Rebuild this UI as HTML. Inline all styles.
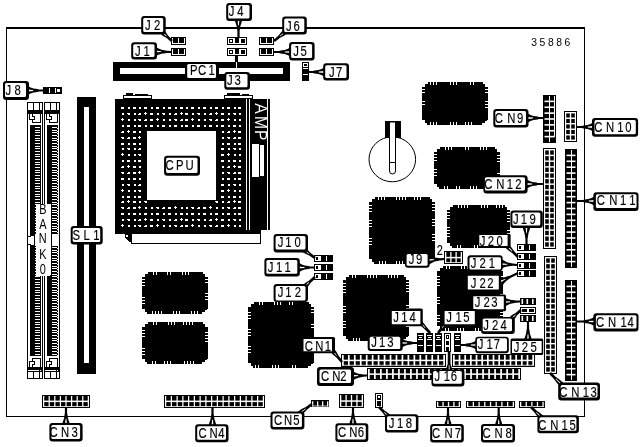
<!DOCTYPE html>
<html lang="en">
<head>
<meta charset="utf-8">
<title>35886 board layout</title>
<style>
html,body{margin:0;padding:0;background:#fff;}
body{width:643px;height:447px;overflow:hidden;}
svg{display:block;font-family:"Liberation Sans",sans-serif;}
svg .g{shape-rendering:crispEdges;}
svg .a{shape-rendering:geometricPrecision;}
svg{will-change:transform;filter:grayscale(1);}
</style>
</head>
<body>
<svg width="643" height="447" viewBox="0 0 643 447">
<rect width="643" height="447" fill="#fff"/>
<g class="g">
<rect x="6" y="27" width="579" height="2" fill="#000"/>
<rect x="6" y="27" width="1" height="390" fill="#000"/>
<rect x="584" y="27" width="1" height="390" fill="#000"/>
<rect x="6" y="416" width="579" height="1" fill="#000"/>
<rect x="113" y="62" width="177" height="19" fill="#000"/>
<rect x="120" y="68" width="163" height="6" fill="#fff"/>
<rect x="77" y="97" width="19" height="277" fill="#000"/>
<rect x="84" y="107" width="5" height="256" fill="#fff"/>
<rect x="27" y="102" width="16" height="277" fill="#000"/>
<rect x="28" y="103" width="14" height="275" fill="#fff"/>
<rect x="33" y="102" width="1" height="8" fill="#000"/>
<rect x="39" y="102" width="1" height="8" fill="#000"/>
<rect x="27" y="110" width="16" height="4" fill="#000"/>
<rect x="33" y="371" width="1" height="8" fill="#000"/>
<rect x="39" y="371" width="1" height="8" fill="#000"/>
<rect x="27" y="371" width="16" height="1" fill="#000"/>
<rect x="27" y="367" width="16" height="3" fill="#000"/>
<rect x="39" y="369" width="1" height="3" fill="#000"/>
<rect x="41" y="369" width="2" height="3" fill="#000"/>
<rect x="29" y="114" width="1" height="6" fill="#000"/>
<rect x="29" y="119" width="6" height="1" fill="#000"/>
<rect x="34" y="116" width="1" height="4" fill="#000"/>
<rect x="32" y="116" width="3" height="1" fill="#000"/>
<rect x="32" y="114" width="1" height="3" fill="#000"/>
<rect x="40" y="114" width="1" height="9" fill="#000"/>
<rect x="32" y="122" width="9" height="1" fill="#000"/>
<rect x="32" y="120" width="1" height="3" fill="#000"/>
<rect x="29" y="361" width="1" height="6" fill="#000"/>
<rect x="29" y="361" width="6" height="1" fill="#000"/>
<rect x="34" y="361" width="1" height="4" fill="#000"/>
<rect x="32" y="364" width="3" height="1" fill="#000"/>
<rect x="32" y="364" width="1" height="3" fill="#000"/>
<rect x="40" y="358" width="1" height="9" fill="#000"/>
<rect x="32" y="358" width="9" height="1" fill="#000"/>
<rect x="32" y="358" width="1" height="3" fill="#000"/>
<rect x="30" y="125" width="11" height="231" fill="#000"/>
<rect x="35" y="127" width="5" height="1" fill="#fff"/>
<rect x="35" y="129.667" width="5" height="1" fill="#fff"/>
<rect x="35" y="132.333" width="5" height="1" fill="#fff"/>
<rect x="35" y="135" width="5" height="1" fill="#fff"/>
<rect x="35" y="137.667" width="5" height="1" fill="#fff"/>
<rect x="35" y="140.333" width="5" height="1" fill="#fff"/>
<rect x="35" y="143" width="5" height="1" fill="#fff"/>
<rect x="35" y="145.667" width="5" height="1" fill="#fff"/>
<rect x="35" y="148.333" width="5" height="1" fill="#fff"/>
<rect x="35" y="151" width="5" height="1" fill="#fff"/>
<rect x="35" y="153.667" width="5" height="1" fill="#fff"/>
<rect x="35" y="156.333" width="5" height="1" fill="#fff"/>
<rect x="35" y="159" width="5" height="1" fill="#fff"/>
<rect x="35" y="161.667" width="5" height="1" fill="#fff"/>
<rect x="35" y="164.333" width="5" height="1" fill="#fff"/>
<rect x="35" y="167" width="5" height="1" fill="#fff"/>
<rect x="35" y="169.667" width="5" height="1" fill="#fff"/>
<rect x="35" y="172.333" width="5" height="1" fill="#fff"/>
<rect x="35" y="175" width="5" height="1" fill="#fff"/>
<rect x="35" y="177.667" width="5" height="1" fill="#fff"/>
<rect x="35" y="180.333" width="5" height="1" fill="#fff"/>
<rect x="35" y="183" width="5" height="1" fill="#fff"/>
<rect x="35" y="185.667" width="5" height="1" fill="#fff"/>
<rect x="35" y="188.333" width="5" height="1" fill="#fff"/>
<rect x="35" y="191" width="5" height="1" fill="#fff"/>
<rect x="35" y="193.667" width="5" height="1" fill="#fff"/>
<rect x="35" y="196.333" width="5" height="1" fill="#fff"/>
<rect x="35" y="199" width="5" height="1" fill="#fff"/>
<rect x="35" y="201.667" width="5" height="1" fill="#fff"/>
<rect x="35" y="204.333" width="5" height="1" fill="#fff"/>
<rect x="35" y="207" width="5" height="1" fill="#fff"/>
<rect x="35" y="209.667" width="5" height="1" fill="#fff"/>
<rect x="35" y="212.333" width="5" height="1" fill="#fff"/>
<rect x="35" y="215" width="5" height="1" fill="#fff"/>
<rect x="35" y="217.667" width="5" height="1" fill="#fff"/>
<rect x="35" y="220.333" width="5" height="1" fill="#fff"/>
<rect x="35" y="223" width="5" height="1" fill="#fff"/>
<rect x="35" y="225.667" width="5" height="1" fill="#fff"/>
<rect x="35" y="228.333" width="5" height="1" fill="#fff"/>
<rect x="35" y="231" width="5" height="1" fill="#fff"/>
<rect x="35" y="233.667" width="5" height="1" fill="#fff"/>
<rect x="35" y="236.333" width="5" height="1" fill="#fff"/>
<rect x="35" y="239" width="5" height="1" fill="#fff"/>
<rect x="35" y="241.667" width="5" height="1" fill="#fff"/>
<rect x="35" y="244.333" width="5" height="1" fill="#fff"/>
<rect x="35" y="247" width="5" height="1" fill="#fff"/>
<rect x="35" y="249.667" width="5" height="1" fill="#fff"/>
<rect x="35" y="252.333" width="5" height="1" fill="#fff"/>
<rect x="35" y="255" width="5" height="1" fill="#fff"/>
<rect x="35" y="257.667" width="5" height="1" fill="#fff"/>
<rect x="35" y="260.333" width="5" height="1" fill="#fff"/>
<rect x="35" y="263" width="5" height="1" fill="#fff"/>
<rect x="35" y="265.667" width="5" height="1" fill="#fff"/>
<rect x="35" y="268.333" width="5" height="1" fill="#fff"/>
<rect x="35" y="271" width="5" height="1" fill="#fff"/>
<rect x="35" y="273.667" width="5" height="1" fill="#fff"/>
<rect x="35" y="276.333" width="5" height="1" fill="#fff"/>
<rect x="35" y="279" width="5" height="1" fill="#fff"/>
<rect x="35" y="281.667" width="5" height="1" fill="#fff"/>
<rect x="35" y="284.333" width="5" height="1" fill="#fff"/>
<rect x="35" y="287" width="5" height="1" fill="#fff"/>
<rect x="35" y="289.667" width="5" height="1" fill="#fff"/>
<rect x="35" y="292.333" width="5" height="1" fill="#fff"/>
<rect x="35" y="295" width="5" height="1" fill="#fff"/>
<rect x="35" y="297.667" width="5" height="1" fill="#fff"/>
<rect x="35" y="300.333" width="5" height="1" fill="#fff"/>
<rect x="35" y="303" width="5" height="1" fill="#fff"/>
<rect x="35" y="305.667" width="5" height="1" fill="#fff"/>
<rect x="35" y="308.333" width="5" height="1" fill="#fff"/>
<rect x="35" y="311" width="5" height="1" fill="#fff"/>
<rect x="35" y="313.667" width="5" height="1" fill="#fff"/>
<rect x="35" y="316.333" width="5" height="1" fill="#fff"/>
<rect x="35" y="319" width="5" height="1" fill="#fff"/>
<rect x="35" y="321.667" width="5" height="1" fill="#fff"/>
<rect x="35" y="324.333" width="5" height="1" fill="#fff"/>
<rect x="35" y="327" width="5" height="1" fill="#fff"/>
<rect x="35" y="329.667" width="5" height="1" fill="#fff"/>
<rect x="35" y="332.333" width="5" height="1" fill="#fff"/>
<rect x="35" y="335" width="5" height="1" fill="#fff"/>
<rect x="35" y="337.667" width="5" height="1" fill="#fff"/>
<rect x="35" y="340.333" width="5" height="1" fill="#fff"/>
<rect x="35" y="343" width="5" height="1" fill="#fff"/>
<rect x="35" y="345.667" width="5" height="1" fill="#fff"/>
<rect x="35" y="348.333" width="5" height="1" fill="#fff"/>
<rect x="35" y="351" width="5" height="1" fill="#fff"/>
<rect x="35" y="353.667" width="5" height="1" fill="#fff"/>
<rect x="28" y="236" width="6" height="9" fill="#fff"/>
<rect x="28" y="236" width="3" height="1" fill="#000"/>
<rect x="28" y="244" width="3" height="1" fill="#000"/>
<rect x="35" y="234" width="7" height="12" fill="#fff"/>
<rect x="35" y="246" width="6" height="1" fill="#000"/>
<rect x="44" y="102" width="16" height="277" fill="#000"/>
<rect x="45" y="103" width="14" height="275" fill="#fff"/>
<rect x="50" y="102" width="1" height="8" fill="#000"/>
<rect x="56" y="102" width="1" height="8" fill="#000"/>
<rect x="44" y="110" width="16" height="4" fill="#000"/>
<rect x="50" y="371" width="1" height="8" fill="#000"/>
<rect x="56" y="371" width="1" height="8" fill="#000"/>
<rect x="44" y="371" width="16" height="1" fill="#000"/>
<rect x="44" y="367" width="16" height="3" fill="#000"/>
<rect x="56" y="369" width="1" height="3" fill="#000"/>
<rect x="58" y="369" width="2" height="3" fill="#000"/>
<rect x="46" y="114" width="1" height="6" fill="#000"/>
<rect x="46" y="119" width="6" height="1" fill="#000"/>
<rect x="51" y="116" width="1" height="4" fill="#000"/>
<rect x="49" y="116" width="3" height="1" fill="#000"/>
<rect x="49" y="114" width="1" height="3" fill="#000"/>
<rect x="57" y="114" width="1" height="9" fill="#000"/>
<rect x="49" y="122" width="9" height="1" fill="#000"/>
<rect x="49" y="120" width="1" height="3" fill="#000"/>
<rect x="46" y="361" width="1" height="6" fill="#000"/>
<rect x="46" y="361" width="6" height="1" fill="#000"/>
<rect x="51" y="361" width="1" height="4" fill="#000"/>
<rect x="49" y="364" width="3" height="1" fill="#000"/>
<rect x="49" y="364" width="1" height="3" fill="#000"/>
<rect x="57" y="358" width="1" height="9" fill="#000"/>
<rect x="49" y="358" width="9" height="1" fill="#000"/>
<rect x="49" y="358" width="1" height="3" fill="#000"/>
<rect x="47" y="125" width="11" height="231" fill="#000"/>
<rect x="52" y="127" width="5" height="1" fill="#fff"/>
<rect x="57" y="128" width="1" height="1" fill="#fff"/>
<rect x="52" y="129.667" width="5" height="1" fill="#fff"/>
<rect x="57" y="130.667" width="1" height="1" fill="#fff"/>
<rect x="52" y="132.333" width="5" height="1" fill="#fff"/>
<rect x="57" y="133.333" width="1" height="1" fill="#fff"/>
<rect x="52" y="135" width="5" height="1" fill="#fff"/>
<rect x="57" y="136" width="1" height="1" fill="#fff"/>
<rect x="52" y="137.667" width="5" height="1" fill="#fff"/>
<rect x="57" y="138.667" width="1" height="1" fill="#fff"/>
<rect x="52" y="140.333" width="5" height="1" fill="#fff"/>
<rect x="57" y="141.333" width="1" height="1" fill="#fff"/>
<rect x="52" y="143" width="5" height="1" fill="#fff"/>
<rect x="57" y="144" width="1" height="1" fill="#fff"/>
<rect x="52" y="145.667" width="5" height="1" fill="#fff"/>
<rect x="57" y="146.667" width="1" height="1" fill="#fff"/>
<rect x="52" y="148.333" width="5" height="1" fill="#fff"/>
<rect x="57" y="149.333" width="1" height="1" fill="#fff"/>
<rect x="52" y="151" width="5" height="1" fill="#fff"/>
<rect x="57" y="152" width="1" height="1" fill="#fff"/>
<rect x="52" y="153.667" width="5" height="1" fill="#fff"/>
<rect x="57" y="154.667" width="1" height="1" fill="#fff"/>
<rect x="52" y="156.333" width="5" height="1" fill="#fff"/>
<rect x="57" y="157.333" width="1" height="1" fill="#fff"/>
<rect x="52" y="159" width="5" height="1" fill="#fff"/>
<rect x="57" y="160" width="1" height="1" fill="#fff"/>
<rect x="52" y="161.667" width="5" height="1" fill="#fff"/>
<rect x="57" y="162.667" width="1" height="1" fill="#fff"/>
<rect x="52" y="164.333" width="5" height="1" fill="#fff"/>
<rect x="57" y="165.333" width="1" height="1" fill="#fff"/>
<rect x="52" y="167" width="5" height="1" fill="#fff"/>
<rect x="57" y="168" width="1" height="1" fill="#fff"/>
<rect x="52" y="169.667" width="5" height="1" fill="#fff"/>
<rect x="57" y="170.667" width="1" height="1" fill="#fff"/>
<rect x="52" y="172.333" width="5" height="1" fill="#fff"/>
<rect x="57" y="173.333" width="1" height="1" fill="#fff"/>
<rect x="52" y="175" width="5" height="1" fill="#fff"/>
<rect x="57" y="176" width="1" height="1" fill="#fff"/>
<rect x="52" y="177.667" width="5" height="1" fill="#fff"/>
<rect x="57" y="178.667" width="1" height="1" fill="#fff"/>
<rect x="52" y="180.333" width="5" height="1" fill="#fff"/>
<rect x="57" y="181.333" width="1" height="1" fill="#fff"/>
<rect x="52" y="183" width="5" height="1" fill="#fff"/>
<rect x="57" y="184" width="1" height="1" fill="#fff"/>
<rect x="52" y="185.667" width="5" height="1" fill="#fff"/>
<rect x="57" y="186.667" width="1" height="1" fill="#fff"/>
<rect x="52" y="188.333" width="5" height="1" fill="#fff"/>
<rect x="57" y="189.333" width="1" height="1" fill="#fff"/>
<rect x="52" y="191" width="5" height="1" fill="#fff"/>
<rect x="57" y="192" width="1" height="1" fill="#fff"/>
<rect x="52" y="193.667" width="5" height="1" fill="#fff"/>
<rect x="57" y="194.667" width="1" height="1" fill="#fff"/>
<rect x="52" y="196.333" width="5" height="1" fill="#fff"/>
<rect x="57" y="197.333" width="1" height="1" fill="#fff"/>
<rect x="52" y="199" width="5" height="1" fill="#fff"/>
<rect x="57" y="200" width="1" height="1" fill="#fff"/>
<rect x="52" y="201.667" width="5" height="1" fill="#fff"/>
<rect x="57" y="202.667" width="1" height="1" fill="#fff"/>
<rect x="52" y="204.333" width="5" height="1" fill="#fff"/>
<rect x="57" y="205.333" width="1" height="1" fill="#fff"/>
<rect x="52" y="207" width="5" height="1" fill="#fff"/>
<rect x="57" y="208" width="1" height="1" fill="#fff"/>
<rect x="52" y="209.667" width="5" height="1" fill="#fff"/>
<rect x="57" y="210.667" width="1" height="1" fill="#fff"/>
<rect x="52" y="212.333" width="5" height="1" fill="#fff"/>
<rect x="57" y="213.333" width="1" height="1" fill="#fff"/>
<rect x="52" y="215" width="5" height="1" fill="#fff"/>
<rect x="57" y="216" width="1" height="1" fill="#fff"/>
<rect x="52" y="217.667" width="5" height="1" fill="#fff"/>
<rect x="57" y="218.667" width="1" height="1" fill="#fff"/>
<rect x="52" y="220.333" width="5" height="1" fill="#fff"/>
<rect x="57" y="221.333" width="1" height="1" fill="#fff"/>
<rect x="52" y="223" width="5" height="1" fill="#fff"/>
<rect x="57" y="224" width="1" height="1" fill="#fff"/>
<rect x="52" y="225.667" width="5" height="1" fill="#fff"/>
<rect x="57" y="226.667" width="1" height="1" fill="#fff"/>
<rect x="52" y="228.333" width="5" height="1" fill="#fff"/>
<rect x="57" y="229.333" width="1" height="1" fill="#fff"/>
<rect x="52" y="231" width="5" height="1" fill="#fff"/>
<rect x="57" y="232" width="1" height="1" fill="#fff"/>
<rect x="52" y="233.667" width="5" height="1" fill="#fff"/>
<rect x="57" y="234.667" width="1" height="1" fill="#fff"/>
<rect x="52" y="236.333" width="5" height="1" fill="#fff"/>
<rect x="57" y="237.333" width="1" height="1" fill="#fff"/>
<rect x="52" y="239" width="5" height="1" fill="#fff"/>
<rect x="57" y="240" width="1" height="1" fill="#fff"/>
<rect x="52" y="241.667" width="5" height="1" fill="#fff"/>
<rect x="57" y="242.667" width="1" height="1" fill="#fff"/>
<rect x="52" y="244.333" width="5" height="1" fill="#fff"/>
<rect x="57" y="245.333" width="1" height="1" fill="#fff"/>
<rect x="52" y="247" width="5" height="1" fill="#fff"/>
<rect x="57" y="248" width="1" height="1" fill="#fff"/>
<rect x="52" y="249.667" width="5" height="1" fill="#fff"/>
<rect x="57" y="250.667" width="1" height="1" fill="#fff"/>
<rect x="52" y="252.333" width="5" height="1" fill="#fff"/>
<rect x="57" y="253.333" width="1" height="1" fill="#fff"/>
<rect x="52" y="255" width="5" height="1" fill="#fff"/>
<rect x="57" y="256" width="1" height="1" fill="#fff"/>
<rect x="52" y="257.667" width="5" height="1" fill="#fff"/>
<rect x="57" y="258.667" width="1" height="1" fill="#fff"/>
<rect x="52" y="260.333" width="5" height="1" fill="#fff"/>
<rect x="57" y="261.333" width="1" height="1" fill="#fff"/>
<rect x="52" y="263" width="5" height="1" fill="#fff"/>
<rect x="57" y="264" width="1" height="1" fill="#fff"/>
<rect x="52" y="265.667" width="5" height="1" fill="#fff"/>
<rect x="57" y="266.667" width="1" height="1" fill="#fff"/>
<rect x="52" y="268.333" width="5" height="1" fill="#fff"/>
<rect x="57" y="269.333" width="1" height="1" fill="#fff"/>
<rect x="52" y="271" width="5" height="1" fill="#fff"/>
<rect x="57" y="272" width="1" height="1" fill="#fff"/>
<rect x="52" y="273.667" width="5" height="1" fill="#fff"/>
<rect x="57" y="274.667" width="1" height="1" fill="#fff"/>
<rect x="52" y="276.333" width="5" height="1" fill="#fff"/>
<rect x="57" y="277.333" width="1" height="1" fill="#fff"/>
<rect x="52" y="279" width="5" height="1" fill="#fff"/>
<rect x="57" y="280" width="1" height="1" fill="#fff"/>
<rect x="52" y="281.667" width="5" height="1" fill="#fff"/>
<rect x="57" y="282.667" width="1" height="1" fill="#fff"/>
<rect x="52" y="284.333" width="5" height="1" fill="#fff"/>
<rect x="57" y="285.333" width="1" height="1" fill="#fff"/>
<rect x="52" y="287" width="5" height="1" fill="#fff"/>
<rect x="57" y="288" width="1" height="1" fill="#fff"/>
<rect x="52" y="289.667" width="5" height="1" fill="#fff"/>
<rect x="57" y="290.667" width="1" height="1" fill="#fff"/>
<rect x="52" y="292.333" width="5" height="1" fill="#fff"/>
<rect x="57" y="293.333" width="1" height="1" fill="#fff"/>
<rect x="52" y="295" width="5" height="1" fill="#fff"/>
<rect x="57" y="296" width="1" height="1" fill="#fff"/>
<rect x="52" y="297.667" width="5" height="1" fill="#fff"/>
<rect x="57" y="298.667" width="1" height="1" fill="#fff"/>
<rect x="52" y="300.333" width="5" height="1" fill="#fff"/>
<rect x="57" y="301.333" width="1" height="1" fill="#fff"/>
<rect x="52" y="303" width="5" height="1" fill="#fff"/>
<rect x="57" y="304" width="1" height="1" fill="#fff"/>
<rect x="52" y="305.667" width="5" height="1" fill="#fff"/>
<rect x="57" y="306.667" width="1" height="1" fill="#fff"/>
<rect x="52" y="308.333" width="5" height="1" fill="#fff"/>
<rect x="57" y="309.333" width="1" height="1" fill="#fff"/>
<rect x="52" y="311" width="5" height="1" fill="#fff"/>
<rect x="57" y="312" width="1" height="1" fill="#fff"/>
<rect x="52" y="313.667" width="5" height="1" fill="#fff"/>
<rect x="57" y="314.667" width="1" height="1" fill="#fff"/>
<rect x="52" y="316.333" width="5" height="1" fill="#fff"/>
<rect x="57" y="317.333" width="1" height="1" fill="#fff"/>
<rect x="52" y="319" width="5" height="1" fill="#fff"/>
<rect x="57" y="320" width="1" height="1" fill="#fff"/>
<rect x="52" y="321.667" width="5" height="1" fill="#fff"/>
<rect x="57" y="322.667" width="1" height="1" fill="#fff"/>
<rect x="52" y="324.333" width="5" height="1" fill="#fff"/>
<rect x="57" y="325.333" width="1" height="1" fill="#fff"/>
<rect x="52" y="327" width="5" height="1" fill="#fff"/>
<rect x="57" y="328" width="1" height="1" fill="#fff"/>
<rect x="52" y="329.667" width="5" height="1" fill="#fff"/>
<rect x="57" y="330.667" width="1" height="1" fill="#fff"/>
<rect x="52" y="332.333" width="5" height="1" fill="#fff"/>
<rect x="57" y="333.333" width="1" height="1" fill="#fff"/>
<rect x="52" y="335" width="5" height="1" fill="#fff"/>
<rect x="57" y="336" width="1" height="1" fill="#fff"/>
<rect x="52" y="337.667" width="5" height="1" fill="#fff"/>
<rect x="57" y="338.667" width="1" height="1" fill="#fff"/>
<rect x="52" y="340.333" width="5" height="1" fill="#fff"/>
<rect x="57" y="341.333" width="1" height="1" fill="#fff"/>
<rect x="52" y="343" width="5" height="1" fill="#fff"/>
<rect x="57" y="344" width="1" height="1" fill="#fff"/>
<rect x="52" y="345.667" width="5" height="1" fill="#fff"/>
<rect x="57" y="346.667" width="1" height="1" fill="#fff"/>
<rect x="52" y="348.333" width="5" height="1" fill="#fff"/>
<rect x="57" y="349.333" width="1" height="1" fill="#fff"/>
<rect x="52" y="351" width="5" height="1" fill="#fff"/>
<rect x="57" y="352" width="1" height="1" fill="#fff"/>
<rect x="52" y="353.667" width="5" height="1" fill="#fff"/>
<rect x="57" y="354.667" width="1" height="1" fill="#fff"/>
<rect x="45" y="236" width="6" height="9" fill="#fff"/>
<rect x="45" y="236" width="3" height="1" fill="#000"/>
<rect x="45" y="244" width="3" height="1" fill="#000"/>
<rect x="52" y="234" width="7" height="12" fill="#fff"/>
<rect x="52" y="246" width="6" height="1" fill="#000"/>
<rect x="36" y="203.5" width="15" height="72.5" rx="2" ry="2" fill="#fff"/>
<text transform="scale(0.78,1)" text-anchor="middle" font-size="14" x="54.9 54.9 54.9 54.9 54.9" y="213.8 228.8 243.2 258.8 273.8">BANK0</text>
<rect x="123" y="95" width="29" height="4" fill="#000"/>
<rect x="124" y="96" width="27" height="2" fill="#fff"/>
<rect x="126" y="93" width="7" height="2" fill="#000"/>
<rect x="135" y="94" width="13" height="1" fill="#000"/>
<rect x="224" y="95" width="29" height="4" fill="#000"/>
<rect x="225" y="96" width="27" height="2" fill="#fff"/>
<rect x="227" y="93" width="13" height="2" fill="#000"/>
<rect x="242" y="94" width="7" height="1" fill="#000"/>
<rect x="115" y="99" width="146" height="135" fill="#000"/>
<rect x="261" y="99" width="9" height="131" fill="#fff"/>
<rect x="246" y="99" width="24" height="131" fill="#000"/>
<rect x="246" y="99" width="1" height="131" fill="#fff"/>
<rect x="249" y="99" width="1" height="131" fill="#fff"/>
<rect x="267" y="99" width="1" height="131" fill="#fff"/>
<rect x="252" y="144" width="7" height="33" fill="#fff"/>
<rect x="260" y="145" width="4" height="31" fill="#fff"/>
<text transform="translate(255,103.3) rotate(90) scale(0.95,1)" font-size="16.5" fill="#fff" x="0 13.4 28" y="0">AMP</text>
<rect x="121" y="107" width="3" height="2" fill="#fff"/>
<rect x="128" y="107" width="2" height="2" fill="#fff"/>
<rect x="133" y="107" width="3" height="2" fill="#fff"/>
<rect x="139" y="107" width="2" height="2" fill="#fff"/>
<rect x="144" y="107" width="3" height="2" fill="#fff"/>
<rect x="151" y="107" width="2" height="2" fill="#fff"/>
<rect x="156" y="107" width="3" height="2" fill="#fff"/>
<rect x="163" y="107" width="2" height="2" fill="#fff"/>
<rect x="168" y="107" width="3" height="2" fill="#fff"/>
<rect x="175" y="107" width="2" height="2" fill="#fff"/>
<rect x="180" y="107" width="3" height="2" fill="#fff"/>
<rect x="186" y="107" width="2" height="2" fill="#fff"/>
<rect x="191" y="107" width="3" height="2" fill="#fff"/>
<rect x="198" y="107" width="2" height="2" fill="#fff"/>
<rect x="203" y="107" width="3" height="2" fill="#fff"/>
<rect x="210" y="107" width="2" height="2" fill="#fff"/>
<rect x="215" y="107" width="3" height="2" fill="#fff"/>
<rect x="222" y="107" width="2" height="2" fill="#fff"/>
<rect x="227" y="107" width="3" height="2" fill="#fff"/>
<rect x="234" y="107" width="2" height="2" fill="#fff"/>
<rect x="238" y="107" width="3" height="2" fill="#fff"/>
<rect x="122" y="113" width="2" height="2" fill="#fff"/>
<rect x="128" y="113" width="2" height="2" fill="#fff"/>
<rect x="127" y="113" width="1" height="1" fill="#fff"/>
<rect x="134" y="113" width="2" height="2" fill="#fff"/>
<rect x="138" y="114" width="3" height="1" fill="#fff"/>
<rect x="139" y="113" width="2" height="1" fill="#fff"/>
<rect x="144" y="113" width="3" height="1" fill="#fff"/>
<rect x="145" y="112" width="1" height="3" fill="#fff"/>
<rect x="150" y="113" width="3" height="2" fill="#fff"/>
<rect x="157" y="113" width="2" height="2" fill="#fff"/>
<rect x="163" y="113" width="2" height="2" fill="#fff"/>
<rect x="162" y="113" width="1" height="1" fill="#fff"/>
<rect x="169" y="113" width="2" height="2" fill="#fff"/>
<rect x="174" y="114" width="3" height="1" fill="#fff"/>
<rect x="175" y="113" width="2" height="1" fill="#fff"/>
<rect x="180" y="113" width="3" height="1" fill="#fff"/>
<rect x="181" y="112" width="1" height="3" fill="#fff"/>
<rect x="185" y="113" width="3" height="2" fill="#fff"/>
<rect x="192" y="113" width="2" height="2" fill="#fff"/>
<rect x="198" y="113" width="2" height="2" fill="#fff"/>
<rect x="197" y="113" width="1" height="1" fill="#fff"/>
<rect x="204" y="113" width="2" height="2" fill="#fff"/>
<rect x="209" y="114" width="3" height="1" fill="#fff"/>
<rect x="210" y="113" width="2" height="1" fill="#fff"/>
<rect x="215" y="113" width="3" height="1" fill="#fff"/>
<rect x="216" y="112" width="1" height="3" fill="#fff"/>
<rect x="221" y="113" width="3" height="2" fill="#fff"/>
<rect x="228" y="113" width="2" height="2" fill="#fff"/>
<rect x="234" y="113" width="2" height="2" fill="#fff"/>
<rect x="233" y="113" width="1" height="1" fill="#fff"/>
<rect x="239" y="113" width="2" height="2" fill="#fff"/>
<rect x="121" y="119" width="3" height="1" fill="#fff"/>
<rect x="122" y="118" width="1" height="3" fill="#fff"/>
<rect x="128" y="119" width="2" height="2" fill="#fff"/>
<rect x="134" y="119" width="2" height="2" fill="#fff"/>
<rect x="139" y="119" width="2" height="2" fill="#fff"/>
<rect x="138" y="119" width="1" height="1" fill="#fff"/>
<rect x="144" y="120" width="3" height="1" fill="#fff"/>
<rect x="145" y="119" width="2" height="1" fill="#fff"/>
<rect x="150" y="119" width="3" height="2" fill="#fff"/>
<rect x="156" y="119" width="3" height="1" fill="#fff"/>
<rect x="157" y="118" width="1" height="3" fill="#fff"/>
<rect x="163" y="119" width="2" height="2" fill="#fff"/>
<rect x="169" y="119" width="2" height="2" fill="#fff"/>
<rect x="175" y="119" width="2" height="2" fill="#fff"/>
<rect x="174" y="119" width="1" height="1" fill="#fff"/>
<rect x="180" y="120" width="3" height="1" fill="#fff"/>
<rect x="181" y="119" width="2" height="1" fill="#fff"/>
<rect x="185" y="119" width="3" height="2" fill="#fff"/>
<rect x="191" y="119" width="3" height="1" fill="#fff"/>
<rect x="192" y="118" width="1" height="3" fill="#fff"/>
<rect x="198" y="119" width="2" height="2" fill="#fff"/>
<rect x="204" y="119" width="2" height="2" fill="#fff"/>
<rect x="210" y="119" width="2" height="2" fill="#fff"/>
<rect x="209" y="119" width="1" height="1" fill="#fff"/>
<rect x="215" y="120" width="3" height="1" fill="#fff"/>
<rect x="216" y="119" width="2" height="1" fill="#fff"/>
<rect x="221" y="119" width="3" height="2" fill="#fff"/>
<rect x="227" y="119" width="3" height="1" fill="#fff"/>
<rect x="228" y="118" width="1" height="3" fill="#fff"/>
<rect x="234" y="119" width="2" height="2" fill="#fff"/>
<rect x="239" y="119" width="2" height="2" fill="#fff"/>
<rect x="122" y="125" width="2" height="2" fill="#fff"/>
<rect x="127" y="125" width="3" height="2" fill="#fff"/>
<rect x="134" y="125" width="2" height="2" fill="#fff"/>
<rect x="138" y="125" width="3" height="2" fill="#fff"/>
<rect x="145" y="125" width="2" height="2" fill="#fff"/>
<rect x="150" y="125" width="3" height="2" fill="#fff"/>
<rect x="157" y="125" width="2" height="2" fill="#fff"/>
<rect x="162" y="125" width="3" height="2" fill="#fff"/>
<rect x="169" y="125" width="2" height="2" fill="#fff"/>
<rect x="174" y="125" width="3" height="2" fill="#fff"/>
<rect x="181" y="125" width="2" height="2" fill="#fff"/>
<rect x="185" y="125" width="3" height="2" fill="#fff"/>
<rect x="192" y="125" width="2" height="2" fill="#fff"/>
<rect x="197" y="125" width="3" height="2" fill="#fff"/>
<rect x="204" y="125" width="2" height="2" fill="#fff"/>
<rect x="209" y="125" width="3" height="2" fill="#fff"/>
<rect x="216" y="125" width="2" height="2" fill="#fff"/>
<rect x="221" y="125" width="3" height="2" fill="#fff"/>
<rect x="228" y="125" width="2" height="2" fill="#fff"/>
<rect x="233" y="125" width="3" height="2" fill="#fff"/>
<rect x="239" y="125" width="2" height="2" fill="#fff"/>
<rect x="121" y="132" width="3" height="1" fill="#fff"/>
<rect x="122" y="131" width="2" height="1" fill="#fff"/>
<rect x="127" y="131" width="3" height="1" fill="#fff"/>
<rect x="128" y="130" width="1" height="3" fill="#fff"/>
<rect x="133" y="131" width="3" height="2" fill="#fff"/>
<rect x="139" y="131" width="2" height="2" fill="#fff"/>
<rect x="222" y="131" width="2" height="2" fill="#fff"/>
<rect x="227" y="132" width="3" height="1" fill="#fff"/>
<rect x="228" y="131" width="2" height="1" fill="#fff"/>
<rect x="233" y="131" width="3" height="1" fill="#fff"/>
<rect x="234" y="130" width="1" height="3" fill="#fff"/>
<rect x="238" y="131" width="3" height="2" fill="#fff"/>
<rect x="122" y="137" width="2" height="2" fill="#fff"/>
<rect x="121" y="137" width="1" height="1" fill="#fff"/>
<rect x="127" y="138" width="3" height="1" fill="#fff"/>
<rect x="128" y="137" width="2" height="1" fill="#fff"/>
<rect x="133" y="137" width="3" height="2" fill="#fff"/>
<rect x="138" y="137" width="3" height="1" fill="#fff"/>
<rect x="139" y="136" width="1" height="3" fill="#fff"/>
<rect x="222" y="137" width="2" height="2" fill="#fff"/>
<rect x="228" y="137" width="2" height="2" fill="#fff"/>
<rect x="227" y="137" width="1" height="1" fill="#fff"/>
<rect x="233" y="138" width="3" height="1" fill="#fff"/>
<rect x="234" y="137" width="2" height="1" fill="#fff"/>
<rect x="238" y="137" width="3" height="2" fill="#fff"/>
<rect x="121" y="143" width="3" height="2" fill="#fff"/>
<rect x="128" y="143" width="2" height="2" fill="#fff"/>
<rect x="133" y="143" width="3" height="2" fill="#fff"/>
<rect x="139" y="143" width="2" height="2" fill="#fff"/>
<rect x="222" y="143" width="2" height="2" fill="#fff"/>
<rect x="227" y="143" width="3" height="2" fill="#fff"/>
<rect x="234" y="143" width="2" height="2" fill="#fff"/>
<rect x="238" y="143" width="3" height="2" fill="#fff"/>
<rect x="122" y="148" width="2" height="2" fill="#fff"/>
<rect x="128" y="148" width="2" height="2" fill="#fff"/>
<rect x="127" y="148" width="1" height="1" fill="#fff"/>
<rect x="134" y="148" width="2" height="2" fill="#fff"/>
<rect x="138" y="149" width="3" height="1" fill="#fff"/>
<rect x="139" y="148" width="2" height="1" fill="#fff"/>
<rect x="221" y="148" width="3" height="2" fill="#fff"/>
<rect x="228" y="148" width="2" height="2" fill="#fff"/>
<rect x="234" y="148" width="2" height="2" fill="#fff"/>
<rect x="233" y="148" width="1" height="1" fill="#fff"/>
<rect x="239" y="148" width="2" height="2" fill="#fff"/>
<rect x="121" y="154" width="3" height="1" fill="#fff"/>
<rect x="122" y="153" width="1" height="3" fill="#fff"/>
<rect x="128" y="154" width="2" height="2" fill="#fff"/>
<rect x="134" y="154" width="2" height="2" fill="#fff"/>
<rect x="139" y="154" width="2" height="2" fill="#fff"/>
<rect x="138" y="154" width="1" height="1" fill="#fff"/>
<rect x="221" y="154" width="3" height="2" fill="#fff"/>
<rect x="227" y="154" width="3" height="1" fill="#fff"/>
<rect x="228" y="153" width="1" height="3" fill="#fff"/>
<rect x="234" y="154" width="2" height="2" fill="#fff"/>
<rect x="239" y="154" width="2" height="2" fill="#fff"/>
<rect x="122" y="160" width="2" height="2" fill="#fff"/>
<rect x="127" y="160" width="3" height="2" fill="#fff"/>
<rect x="134" y="160" width="2" height="2" fill="#fff"/>
<rect x="138" y="160" width="3" height="2" fill="#fff"/>
<rect x="221" y="160" width="3" height="2" fill="#fff"/>
<rect x="228" y="160" width="2" height="2" fill="#fff"/>
<rect x="233" y="160" width="3" height="2" fill="#fff"/>
<rect x="239" y="160" width="2" height="2" fill="#fff"/>
<rect x="121" y="167" width="3" height="1" fill="#fff"/>
<rect x="122" y="166" width="2" height="1" fill="#fff"/>
<rect x="127" y="166" width="3" height="1" fill="#fff"/>
<rect x="128" y="165" width="1" height="3" fill="#fff"/>
<rect x="133" y="166" width="3" height="2" fill="#fff"/>
<rect x="139" y="166" width="2" height="2" fill="#fff"/>
<rect x="222" y="166" width="2" height="2" fill="#fff"/>
<rect x="227" y="167" width="3" height="1" fill="#fff"/>
<rect x="228" y="166" width="2" height="1" fill="#fff"/>
<rect x="233" y="166" width="3" height="1" fill="#fff"/>
<rect x="234" y="165" width="1" height="3" fill="#fff"/>
<rect x="238" y="166" width="3" height="2" fill="#fff"/>
<rect x="122" y="172" width="2" height="2" fill="#fff"/>
<rect x="121" y="172" width="1" height="1" fill="#fff"/>
<rect x="127" y="173" width="3" height="1" fill="#fff"/>
<rect x="128" y="172" width="2" height="1" fill="#fff"/>
<rect x="133" y="172" width="3" height="2" fill="#fff"/>
<rect x="138" y="172" width="3" height="1" fill="#fff"/>
<rect x="139" y="171" width="1" height="3" fill="#fff"/>
<rect x="222" y="172" width="2" height="2" fill="#fff"/>
<rect x="228" y="172" width="2" height="2" fill="#fff"/>
<rect x="227" y="172" width="1" height="1" fill="#fff"/>
<rect x="233" y="173" width="3" height="1" fill="#fff"/>
<rect x="234" y="172" width="2" height="1" fill="#fff"/>
<rect x="238" y="172" width="3" height="2" fill="#fff"/>
<rect x="121" y="178" width="3" height="2" fill="#fff"/>
<rect x="128" y="178" width="2" height="2" fill="#fff"/>
<rect x="133" y="178" width="3" height="2" fill="#fff"/>
<rect x="139" y="178" width="2" height="2" fill="#fff"/>
<rect x="222" y="178" width="2" height="2" fill="#fff"/>
<rect x="227" y="178" width="3" height="2" fill="#fff"/>
<rect x="234" y="178" width="2" height="2" fill="#fff"/>
<rect x="238" y="178" width="3" height="2" fill="#fff"/>
<rect x="122" y="184" width="2" height="2" fill="#fff"/>
<rect x="128" y="184" width="2" height="2" fill="#fff"/>
<rect x="127" y="184" width="1" height="1" fill="#fff"/>
<rect x="134" y="184" width="2" height="2" fill="#fff"/>
<rect x="138" y="185" width="3" height="1" fill="#fff"/>
<rect x="139" y="184" width="2" height="1" fill="#fff"/>
<rect x="221" y="184" width="3" height="2" fill="#fff"/>
<rect x="228" y="184" width="2" height="2" fill="#fff"/>
<rect x="234" y="184" width="2" height="2" fill="#fff"/>
<rect x="233" y="184" width="1" height="1" fill="#fff"/>
<rect x="239" y="184" width="2" height="2" fill="#fff"/>
<rect x="121" y="190" width="3" height="1" fill="#fff"/>
<rect x="122" y="189" width="1" height="3" fill="#fff"/>
<rect x="128" y="190" width="2" height="2" fill="#fff"/>
<rect x="134" y="190" width="2" height="2" fill="#fff"/>
<rect x="139" y="190" width="2" height="2" fill="#fff"/>
<rect x="138" y="190" width="1" height="1" fill="#fff"/>
<rect x="221" y="190" width="3" height="2" fill="#fff"/>
<rect x="227" y="190" width="3" height="1" fill="#fff"/>
<rect x="228" y="189" width="1" height="3" fill="#fff"/>
<rect x="234" y="190" width="2" height="2" fill="#fff"/>
<rect x="239" y="190" width="2" height="2" fill="#fff"/>
<rect x="122" y="196" width="2" height="2" fill="#fff"/>
<rect x="127" y="196" width="3" height="2" fill="#fff"/>
<rect x="134" y="196" width="2" height="2" fill="#fff"/>
<rect x="138" y="196" width="3" height="2" fill="#fff"/>
<rect x="221" y="196" width="3" height="2" fill="#fff"/>
<rect x="228" y="196" width="2" height="2" fill="#fff"/>
<rect x="233" y="196" width="3" height="2" fill="#fff"/>
<rect x="239" y="196" width="2" height="2" fill="#fff"/>
<rect x="121" y="202" width="3" height="1" fill="#fff"/>
<rect x="122" y="201" width="2" height="1" fill="#fff"/>
<rect x="127" y="201" width="3" height="1" fill="#fff"/>
<rect x="128" y="200" width="1" height="3" fill="#fff"/>
<rect x="133" y="201" width="3" height="2" fill="#fff"/>
<rect x="139" y="201" width="2" height="2" fill="#fff"/>
<rect x="145" y="201" width="2" height="2" fill="#fff"/>
<rect x="144" y="201" width="1" height="1" fill="#fff"/>
<rect x="216" y="201" width="2" height="2" fill="#fff"/>
<rect x="215" y="201" width="1" height="1" fill="#fff"/>
<rect x="222" y="201" width="2" height="2" fill="#fff"/>
<rect x="227" y="202" width="3" height="1" fill="#fff"/>
<rect x="228" y="201" width="2" height="1" fill="#fff"/>
<rect x="233" y="201" width="3" height="1" fill="#fff"/>
<rect x="234" y="200" width="1" height="3" fill="#fff"/>
<rect x="238" y="201" width="3" height="2" fill="#fff"/>
<rect x="122" y="207" width="2" height="2" fill="#fff"/>
<rect x="121" y="207" width="1" height="1" fill="#fff"/>
<rect x="127" y="208" width="3" height="1" fill="#fff"/>
<rect x="128" y="207" width="2" height="1" fill="#fff"/>
<rect x="133" y="207" width="3" height="2" fill="#fff"/>
<rect x="138" y="207" width="3" height="1" fill="#fff"/>
<rect x="139" y="206" width="1" height="3" fill="#fff"/>
<rect x="145" y="207" width="2" height="2" fill="#fff"/>
<rect x="151" y="207" width="2" height="2" fill="#fff"/>
<rect x="157" y="207" width="2" height="2" fill="#fff"/>
<rect x="156" y="207" width="1" height="1" fill="#fff"/>
<rect x="162" y="208" width="3" height="1" fill="#fff"/>
<rect x="163" y="207" width="2" height="1" fill="#fff"/>
<rect x="168" y="207" width="3" height="2" fill="#fff"/>
<rect x="174" y="207" width="3" height="1" fill="#fff"/>
<rect x="175" y="206" width="1" height="3" fill="#fff"/>
<rect x="181" y="207" width="2" height="2" fill="#fff"/>
<rect x="186" y="207" width="2" height="2" fill="#fff"/>
<rect x="192" y="207" width="2" height="2" fill="#fff"/>
<rect x="191" y="207" width="1" height="1" fill="#fff"/>
<rect x="197" y="208" width="3" height="1" fill="#fff"/>
<rect x="198" y="207" width="2" height="1" fill="#fff"/>
<rect x="203" y="207" width="3" height="2" fill="#fff"/>
<rect x="209" y="207" width="3" height="1" fill="#fff"/>
<rect x="210" y="206" width="1" height="3" fill="#fff"/>
<rect x="216" y="207" width="2" height="2" fill="#fff"/>
<rect x="222" y="207" width="2" height="2" fill="#fff"/>
<rect x="228" y="207" width="2" height="2" fill="#fff"/>
<rect x="227" y="207" width="1" height="1" fill="#fff"/>
<rect x="233" y="208" width="3" height="1" fill="#fff"/>
<rect x="234" y="207" width="2" height="1" fill="#fff"/>
<rect x="238" y="207" width="3" height="2" fill="#fff"/>
<rect x="121" y="213" width="3" height="2" fill="#fff"/>
<rect x="128" y="213" width="2" height="2" fill="#fff"/>
<rect x="133" y="213" width="3" height="2" fill="#fff"/>
<rect x="139" y="213" width="2" height="2" fill="#fff"/>
<rect x="144" y="213" width="3" height="2" fill="#fff"/>
<rect x="151" y="213" width="2" height="2" fill="#fff"/>
<rect x="156" y="213" width="3" height="2" fill="#fff"/>
<rect x="163" y="213" width="2" height="2" fill="#fff"/>
<rect x="168" y="213" width="3" height="2" fill="#fff"/>
<rect x="175" y="213" width="2" height="2" fill="#fff"/>
<rect x="180" y="213" width="3" height="2" fill="#fff"/>
<rect x="186" y="213" width="2" height="2" fill="#fff"/>
<rect x="191" y="213" width="3" height="2" fill="#fff"/>
<rect x="198" y="213" width="2" height="2" fill="#fff"/>
<rect x="203" y="213" width="3" height="2" fill="#fff"/>
<rect x="210" y="213" width="2" height="2" fill="#fff"/>
<rect x="215" y="213" width="3" height="2" fill="#fff"/>
<rect x="222" y="213" width="2" height="2" fill="#fff"/>
<rect x="227" y="213" width="3" height="2" fill="#fff"/>
<rect x="234" y="213" width="2" height="2" fill="#fff"/>
<rect x="238" y="213" width="3" height="2" fill="#fff"/>
<rect x="122" y="219" width="2" height="2" fill="#fff"/>
<rect x="128" y="219" width="2" height="2" fill="#fff"/>
<rect x="127" y="219" width="1" height="1" fill="#fff"/>
<rect x="134" y="219" width="2" height="2" fill="#fff"/>
<rect x="138" y="220" width="3" height="1" fill="#fff"/>
<rect x="139" y="219" width="2" height="1" fill="#fff"/>
<rect x="144" y="219" width="3" height="1" fill="#fff"/>
<rect x="145" y="218" width="1" height="3" fill="#fff"/>
<rect x="150" y="219" width="3" height="2" fill="#fff"/>
<rect x="157" y="219" width="2" height="2" fill="#fff"/>
<rect x="163" y="219" width="2" height="2" fill="#fff"/>
<rect x="162" y="219" width="1" height="1" fill="#fff"/>
<rect x="169" y="219" width="2" height="2" fill="#fff"/>
<rect x="174" y="220" width="3" height="1" fill="#fff"/>
<rect x="175" y="219" width="2" height="1" fill="#fff"/>
<rect x="180" y="219" width="3" height="1" fill="#fff"/>
<rect x="181" y="218" width="1" height="3" fill="#fff"/>
<rect x="185" y="219" width="3" height="2" fill="#fff"/>
<rect x="192" y="219" width="2" height="2" fill="#fff"/>
<rect x="198" y="219" width="2" height="2" fill="#fff"/>
<rect x="197" y="219" width="1" height="1" fill="#fff"/>
<rect x="204" y="219" width="2" height="2" fill="#fff"/>
<rect x="209" y="220" width="3" height="1" fill="#fff"/>
<rect x="210" y="219" width="2" height="1" fill="#fff"/>
<rect x="215" y="219" width="3" height="1" fill="#fff"/>
<rect x="216" y="218" width="1" height="3" fill="#fff"/>
<rect x="221" y="219" width="3" height="2" fill="#fff"/>
<rect x="228" y="219" width="2" height="2" fill="#fff"/>
<rect x="234" y="219" width="2" height="2" fill="#fff"/>
<rect x="233" y="219" width="1" height="1" fill="#fff"/>
<rect x="239" y="219" width="2" height="2" fill="#fff"/>
<rect x="121" y="225" width="3" height="1" fill="#fff"/>
<rect x="122" y="224" width="1" height="3" fill="#fff"/>
<rect x="128" y="225" width="2" height="2" fill="#fff"/>
<rect x="134" y="225" width="2" height="2" fill="#fff"/>
<rect x="139" y="225" width="2" height="2" fill="#fff"/>
<rect x="138" y="225" width="1" height="1" fill="#fff"/>
<rect x="144" y="226" width="3" height="1" fill="#fff"/>
<rect x="145" y="225" width="2" height="1" fill="#fff"/>
<rect x="150" y="225" width="3" height="2" fill="#fff"/>
<rect x="156" y="225" width="3" height="1" fill="#fff"/>
<rect x="157" y="224" width="1" height="3" fill="#fff"/>
<rect x="163" y="225" width="2" height="2" fill="#fff"/>
<rect x="169" y="225" width="2" height="2" fill="#fff"/>
<rect x="175" y="225" width="2" height="2" fill="#fff"/>
<rect x="174" y="225" width="1" height="1" fill="#fff"/>
<rect x="180" y="226" width="3" height="1" fill="#fff"/>
<rect x="181" y="225" width="2" height="1" fill="#fff"/>
<rect x="185" y="225" width="3" height="2" fill="#fff"/>
<rect x="191" y="225" width="3" height="1" fill="#fff"/>
<rect x="192" y="224" width="1" height="3" fill="#fff"/>
<rect x="198" y="225" width="2" height="2" fill="#fff"/>
<rect x="204" y="225" width="2" height="2" fill="#fff"/>
<rect x="210" y="225" width="2" height="2" fill="#fff"/>
<rect x="209" y="225" width="1" height="1" fill="#fff"/>
<rect x="215" y="226" width="3" height="1" fill="#fff"/>
<rect x="216" y="225" width="2" height="1" fill="#fff"/>
<rect x="221" y="225" width="3" height="2" fill="#fff"/>
<rect x="227" y="225" width="3" height="1" fill="#fff"/>
<rect x="228" y="224" width="1" height="3" fill="#fff"/>
<rect x="234" y="225" width="2" height="2" fill="#fff"/>
<rect x="239" y="225" width="2" height="2" fill="#fff"/>
<rect x="147" y="130.5" width="69" height="69" fill="#fff"/>
<rect x="131" y="234" width="130" height="10" fill="#000"/>
<rect x="132" y="234" width="128" height="9" fill="#fff"/>
<polygon points="125,234 132,234 132,242 129,242 125,238" fill="#000"/>
<rect x="126" y="235" width="2" height="2" fill="#fff"/>
<ellipse class="a" cx="392.3" cy="159.3" rx="23.3" ry="22.5" fill="#fff" stroke="#000" stroke-width="1"/>
<rect x="385" y="121" width="16" height="17" fill="#000"/>
<path d="M389.5 122 V171 a3 3 0 0 0 6 0 V122 Z" fill="#fff" stroke="#000" stroke-width="1" style="shape-rendering:auto"/>
<rect x="389" y="162" width="7" height="1" fill="#000"/>
<polygon points="148,272 203,272 203,274 205,274 205,277 208,277 208,309 205,310 205,312 202,312 202,314 147,314 147,312 145,312 145,309 142,309 142,277 145,277 145,274 148,274" fill="#000"/>
<rect x="153" y="272" width="1" height="3" fill="#fff"/>
<rect x="156" y="272" width="1" height="3" fill="#fff"/>
<rect x="167" y="272" width="1" height="3" fill="#fff"/>
<rect x="170" y="272" width="1" height="3" fill="#fff"/>
<rect x="182" y="272" width="1" height="3" fill="#fff"/>
<rect x="185" y="272" width="1" height="3" fill="#fff"/>
<rect x="188" y="272" width="1" height="3" fill="#fff"/>
<rect x="152" y="311" width="1" height="3" fill="#fff"/>
<rect x="155" y="311" width="1" height="3" fill="#fff"/>
<rect x="158" y="311" width="1" height="3" fill="#fff"/>
<rect x="161" y="311" width="1" height="3" fill="#fff"/>
<rect x="173" y="311" width="1" height="3" fill="#fff"/>
<rect x="176" y="311" width="1" height="3" fill="#fff"/>
<rect x="179" y="311" width="1" height="3" fill="#fff"/>
<rect x="191" y="311" width="1" height="3" fill="#fff"/>
<rect x="194" y="311" width="1" height="3" fill="#fff"/>
<rect x="197" y="311" width="1" height="3" fill="#fff"/>
<rect x="142" y="279" width="3" height="1" fill="#fff"/>
<rect x="142" y="282" width="3" height="1" fill="#fff"/>
<rect x="142" y="285" width="3" height="1" fill="#fff"/>
<rect x="142" y="297" width="3" height="1" fill="#fff"/>
<rect x="142" y="300" width="3" height="1" fill="#fff"/>
<rect x="142" y="303" width="3" height="1" fill="#fff"/>
<rect x="205" y="279" width="3" height="1" fill="#fff"/>
<rect x="205" y="282" width="3" height="1" fill="#fff"/>
<rect x="205" y="293" width="3" height="1" fill="#fff"/>
<rect x="205" y="296" width="3" height="1" fill="#fff"/>
<rect x="205" y="299" width="3" height="1" fill="#fff"/>
<polygon points="148,322 203,322 203,324 205,324 205,327 208,327 208,359 205,360 205,362 202,362 202,364 147,364 147,362 145,362 145,359 142,359 142,327 145,327 145,324 148,324" fill="#000"/>
<rect x="153" y="322" width="1" height="3" fill="#fff"/>
<rect x="156" y="322" width="1" height="3" fill="#fff"/>
<rect x="168" y="322" width="1" height="3" fill="#fff"/>
<rect x="171" y="322" width="1" height="3" fill="#fff"/>
<rect x="174" y="322" width="1" height="3" fill="#fff"/>
<rect x="183" y="322" width="1" height="3" fill="#fff"/>
<rect x="186" y="322" width="1" height="3" fill="#fff"/>
<rect x="189" y="322" width="1" height="3" fill="#fff"/>
<rect x="192" y="322" width="1" height="3" fill="#fff"/>
<rect x="152" y="361" width="1" height="3" fill="#fff"/>
<rect x="155" y="361" width="1" height="3" fill="#fff"/>
<rect x="164" y="361" width="1" height="3" fill="#fff"/>
<rect x="167" y="361" width="1" height="3" fill="#fff"/>
<rect x="170" y="361" width="1" height="3" fill="#fff"/>
<rect x="184" y="361" width="1" height="3" fill="#fff"/>
<rect x="187" y="361" width="1" height="3" fill="#fff"/>
<rect x="190" y="361" width="1" height="3" fill="#fff"/>
<rect x="193" y="361" width="1" height="3" fill="#fff"/>
<rect x="142" y="330" width="3" height="1" fill="#fff"/>
<rect x="142" y="333" width="3" height="1" fill="#fff"/>
<rect x="142" y="336" width="3" height="1" fill="#fff"/>
<rect x="142" y="348" width="3" height="1" fill="#fff"/>
<rect x="142" y="351" width="3" height="1" fill="#fff"/>
<rect x="142" y="354" width="3" height="1" fill="#fff"/>
<rect x="205" y="332" width="3" height="1" fill="#fff"/>
<rect x="205" y="335" width="3" height="1" fill="#fff"/>
<rect x="205" y="338" width="3" height="1" fill="#fff"/>
<rect x="205" y="341" width="3" height="1" fill="#fff"/>
<polygon points="428,82 483,82 483,84 485,84 485,87 488,87 488,120 485,121 485,123 482,123 482,125 427,125 427,123 425,123 425,120 422,120 422,87 425,87 425,84 428,84" fill="#000"/>
<rect x="430" y="82" width="1" height="3" fill="#fff"/>
<rect x="433" y="82" width="1" height="3" fill="#fff"/>
<rect x="436" y="82" width="1" height="3" fill="#fff"/>
<rect x="450" y="82" width="1" height="3" fill="#fff"/>
<rect x="453" y="82" width="1" height="3" fill="#fff"/>
<rect x="456" y="82" width="1" height="3" fill="#fff"/>
<rect x="470" y="82" width="1" height="3" fill="#fff"/>
<rect x="473" y="82" width="1" height="3" fill="#fff"/>
<rect x="430" y="122" width="1" height="3" fill="#fff"/>
<rect x="433" y="122" width="1" height="3" fill="#fff"/>
<rect x="436" y="122" width="1" height="3" fill="#fff"/>
<rect x="450" y="122" width="1" height="3" fill="#fff"/>
<rect x="453" y="122" width="1" height="3" fill="#fff"/>
<rect x="456" y="122" width="1" height="3" fill="#fff"/>
<rect x="465" y="122" width="1" height="3" fill="#fff"/>
<rect x="468" y="122" width="1" height="3" fill="#fff"/>
<rect x="471" y="122" width="1" height="3" fill="#fff"/>
<rect x="422" y="89" width="3" height="1" fill="#fff"/>
<rect x="422" y="92" width="3" height="1" fill="#fff"/>
<rect x="422" y="101" width="3" height="1" fill="#fff"/>
<rect x="422" y="104" width="3" height="1" fill="#fff"/>
<rect x="485" y="89" width="3" height="1" fill="#fff"/>
<rect x="485" y="92" width="3" height="1" fill="#fff"/>
<rect x="485" y="101" width="3" height="1" fill="#fff"/>
<rect x="485" y="104" width="3" height="1" fill="#fff"/>
<rect x="485" y="107" width="3" height="1" fill="#fff"/>
<polygon points="440,147 495,147 495,149 497,149 497,152 500,152 500,184 497,185 497,187 494,187 494,189 439,189 439,187 437,187 437,184 434,184 434,152 437,152 437,149 440,149" fill="#000"/>
<rect x="445" y="147" width="1" height="3" fill="#fff"/>
<rect x="448" y="147" width="1" height="3" fill="#fff"/>
<rect x="451" y="147" width="1" height="3" fill="#fff"/>
<rect x="465" y="147" width="1" height="3" fill="#fff"/>
<rect x="468" y="147" width="1" height="3" fill="#fff"/>
<rect x="480" y="147" width="1" height="3" fill="#fff"/>
<rect x="483" y="147" width="1" height="3" fill="#fff"/>
<rect x="486" y="147" width="1" height="3" fill="#fff"/>
<rect x="444" y="186" width="1" height="3" fill="#fff"/>
<rect x="447" y="186" width="1" height="3" fill="#fff"/>
<rect x="456" y="186" width="1" height="3" fill="#fff"/>
<rect x="459" y="186" width="1" height="3" fill="#fff"/>
<rect x="470" y="186" width="1" height="3" fill="#fff"/>
<rect x="473" y="186" width="1" height="3" fill="#fff"/>
<rect x="476" y="186" width="1" height="3" fill="#fff"/>
<rect x="434" y="154" width="3" height="1" fill="#fff"/>
<rect x="434" y="157" width="3" height="1" fill="#fff"/>
<rect x="434" y="160" width="3" height="1" fill="#fff"/>
<rect x="434" y="169" width="3" height="1" fill="#fff"/>
<rect x="434" y="172" width="3" height="1" fill="#fff"/>
<rect x="434" y="175" width="3" height="1" fill="#fff"/>
<rect x="497" y="155" width="3" height="1" fill="#fff"/>
<rect x="497" y="158" width="3" height="1" fill="#fff"/>
<rect x="497" y="161" width="3" height="1" fill="#fff"/>
<rect x="497" y="173" width="3" height="1" fill="#fff"/>
<rect x="497" y="176" width="3" height="1" fill="#fff"/>
<rect x="497" y="179" width="3" height="1" fill="#fff"/>
<polygon points="375,197 430,197 430,199 432,199 432,202 435,202 435,259 432,260 432,262 429,262 429,264 374,264 374,262 372,262 372,259 369,259 369,202 372,202 372,199 375,199" fill="#000"/>
<rect x="378" y="197" width="1" height="3" fill="#fff"/>
<rect x="381" y="197" width="1" height="3" fill="#fff"/>
<rect x="384" y="197" width="1" height="3" fill="#fff"/>
<rect x="396" y="197" width="1" height="3" fill="#fff"/>
<rect x="399" y="197" width="1" height="3" fill="#fff"/>
<rect x="402" y="197" width="1" height="3" fill="#fff"/>
<rect x="405" y="197" width="1" height="3" fill="#fff"/>
<rect x="414" y="197" width="1" height="3" fill="#fff"/>
<rect x="417" y="197" width="1" height="3" fill="#fff"/>
<rect x="420" y="197" width="1" height="3" fill="#fff"/>
<rect x="379" y="261" width="1" height="3" fill="#fff"/>
<rect x="382" y="261" width="1" height="3" fill="#fff"/>
<rect x="385" y="261" width="1" height="3" fill="#fff"/>
<rect x="396" y="261" width="1" height="3" fill="#fff"/>
<rect x="399" y="261" width="1" height="3" fill="#fff"/>
<rect x="402" y="261" width="1" height="3" fill="#fff"/>
<rect x="405" y="261" width="1" height="3" fill="#fff"/>
<rect x="414" y="261" width="1" height="3" fill="#fff"/>
<rect x="417" y="261" width="1" height="3" fill="#fff"/>
<rect x="420" y="261" width="1" height="3" fill="#fff"/>
<rect x="369" y="205" width="3" height="1" fill="#fff"/>
<rect x="369" y="208" width="3" height="1" fill="#fff"/>
<rect x="369" y="211" width="3" height="1" fill="#fff"/>
<rect x="369" y="220" width="3" height="1" fill="#fff"/>
<rect x="369" y="223" width="3" height="1" fill="#fff"/>
<rect x="369" y="226" width="3" height="1" fill="#fff"/>
<rect x="369" y="238" width="3" height="1" fill="#fff"/>
<rect x="369" y="241" width="3" height="1" fill="#fff"/>
<rect x="369" y="244" width="3" height="1" fill="#fff"/>
<rect x="432" y="204" width="3" height="1" fill="#fff"/>
<rect x="432" y="207" width="3" height="1" fill="#fff"/>
<rect x="432" y="210" width="3" height="1" fill="#fff"/>
<rect x="432" y="219" width="3" height="1" fill="#fff"/>
<rect x="432" y="222" width="3" height="1" fill="#fff"/>
<rect x="432" y="225" width="3" height="1" fill="#fff"/>
<rect x="432" y="234" width="3" height="1" fill="#fff"/>
<rect x="432" y="237" width="3" height="1" fill="#fff"/>
<rect x="432" y="240" width="3" height="1" fill="#fff"/>
<polygon points="453,205 505,205 505,207 507,207 507,210 510,210 510,243 507,244 507,246 504,246 504,248 452,248 452,246 450,246 450,243 447,243 447,210 450,210 450,207 453,207" fill="#000"/>
<rect x="458" y="205" width="1" height="3" fill="#fff"/>
<rect x="461" y="205" width="1" height="3" fill="#fff"/>
<rect x="464" y="205" width="1" height="3" fill="#fff"/>
<rect x="467" y="205" width="1" height="3" fill="#fff"/>
<rect x="481" y="205" width="1" height="3" fill="#fff"/>
<rect x="484" y="205" width="1" height="3" fill="#fff"/>
<rect x="487" y="205" width="1" height="3" fill="#fff"/>
<rect x="496" y="205" width="1" height="3" fill="#fff"/>
<rect x="499" y="205" width="1" height="3" fill="#fff"/>
<rect x="502" y="205" width="1" height="3" fill="#fff"/>
<rect x="457" y="245" width="1" height="3" fill="#fff"/>
<rect x="460" y="245" width="1" height="3" fill="#fff"/>
<rect x="474" y="245" width="1" height="3" fill="#fff"/>
<rect x="477" y="245" width="1" height="3" fill="#fff"/>
<rect x="480" y="245" width="1" height="3" fill="#fff"/>
<rect x="483" y="245" width="1" height="3" fill="#fff"/>
<rect x="495" y="245" width="1" height="3" fill="#fff"/>
<rect x="498" y="245" width="1" height="3" fill="#fff"/>
<rect x="501" y="245" width="1" height="3" fill="#fff"/>
<rect x="447" y="212" width="3" height="1" fill="#fff"/>
<rect x="447" y="215" width="3" height="1" fill="#fff"/>
<rect x="447" y="218" width="3" height="1" fill="#fff"/>
<rect x="447" y="227" width="3" height="1" fill="#fff"/>
<rect x="447" y="230" width="3" height="1" fill="#fff"/>
<rect x="447" y="233" width="3" height="1" fill="#fff"/>
<rect x="447" y="236" width="3" height="1" fill="#fff"/>
<rect x="507" y="212" width="3" height="1" fill="#fff"/>
<rect x="507" y="215" width="3" height="1" fill="#fff"/>
<rect x="507" y="218" width="3" height="1" fill="#fff"/>
<rect x="507" y="221" width="3" height="1" fill="#fff"/>
<rect x="507" y="230" width="3" height="1" fill="#fff"/>
<rect x="507" y="233" width="3" height="1" fill="#fff"/>
<rect x="507" y="236" width="3" height="1" fill="#fff"/>
<rect x="507" y="239" width="3" height="1" fill="#fff"/>
<polygon points="443,266 498,266 498,268 500,268 500,271 503,271 503,326 500,327 500,329 497,329 497,331 442,331 442,329 440,329 440,326 437,326 437,271 440,271 440,268 443,268" fill="#000"/>
<rect x="446" y="266" width="1" height="3" fill="#fff"/>
<rect x="449" y="266" width="1" height="3" fill="#fff"/>
<rect x="461" y="266" width="1" height="3" fill="#fff"/>
<rect x="464" y="266" width="1" height="3" fill="#fff"/>
<rect x="467" y="266" width="1" height="3" fill="#fff"/>
<rect x="470" y="266" width="1" height="3" fill="#fff"/>
<rect x="479" y="266" width="1" height="3" fill="#fff"/>
<rect x="482" y="266" width="1" height="3" fill="#fff"/>
<rect x="445" y="328" width="1" height="3" fill="#fff"/>
<rect x="448" y="328" width="1" height="3" fill="#fff"/>
<rect x="457" y="328" width="1" height="3" fill="#fff"/>
<rect x="460" y="328" width="1" height="3" fill="#fff"/>
<rect x="463" y="328" width="1" height="3" fill="#fff"/>
<rect x="475" y="328" width="1" height="3" fill="#fff"/>
<rect x="478" y="328" width="1" height="3" fill="#fff"/>
<rect x="481" y="328" width="1" height="3" fill="#fff"/>
<rect x="437" y="276" width="3" height="1" fill="#fff"/>
<rect x="437" y="279" width="3" height="1" fill="#fff"/>
<rect x="437" y="282" width="3" height="1" fill="#fff"/>
<rect x="437" y="285" width="3" height="1" fill="#fff"/>
<rect x="437" y="297" width="3" height="1" fill="#fff"/>
<rect x="437" y="300" width="3" height="1" fill="#fff"/>
<rect x="437" y="303" width="3" height="1" fill="#fff"/>
<rect x="437" y="315" width="3" height="1" fill="#fff"/>
<rect x="437" y="318" width="3" height="1" fill="#fff"/>
<rect x="437" y="321" width="3" height="1" fill="#fff"/>
<rect x="500" y="276" width="3" height="1" fill="#fff"/>
<rect x="500" y="279" width="3" height="1" fill="#fff"/>
<rect x="500" y="282" width="3" height="1" fill="#fff"/>
<rect x="500" y="294" width="3" height="1" fill="#fff"/>
<rect x="500" y="297" width="3" height="1" fill="#fff"/>
<rect x="500" y="309" width="3" height="1" fill="#fff"/>
<rect x="500" y="312" width="3" height="1" fill="#fff"/>
<rect x="500" y="315" width="3" height="1" fill="#fff"/>
<rect x="500" y="318" width="3" height="1" fill="#fff"/>
<polygon points="349,275 404,275 404,277 406,277 406,280 409,280 409,336 406,337 406,339 403,339 403,341 348,341 348,339 346,339 346,336 343,336 343,280 346,280 346,277 349,277" fill="#000"/>
<rect x="352" y="275" width="1" height="3" fill="#fff"/>
<rect x="355" y="275" width="1" height="3" fill="#fff"/>
<rect x="367" y="275" width="1" height="3" fill="#fff"/>
<rect x="370" y="275" width="1" height="3" fill="#fff"/>
<rect x="373" y="275" width="1" height="3" fill="#fff"/>
<rect x="376" y="275" width="1" height="3" fill="#fff"/>
<rect x="388" y="275" width="1" height="3" fill="#fff"/>
<rect x="391" y="275" width="1" height="3" fill="#fff"/>
<rect x="394" y="275" width="1" height="3" fill="#fff"/>
<rect x="397" y="275" width="1" height="3" fill="#fff"/>
<rect x="353" y="338" width="1" height="3" fill="#fff"/>
<rect x="356" y="338" width="1" height="3" fill="#fff"/>
<rect x="359" y="338" width="1" height="3" fill="#fff"/>
<rect x="373" y="338" width="1" height="3" fill="#fff"/>
<rect x="376" y="338" width="1" height="3" fill="#fff"/>
<rect x="385" y="338" width="1" height="3" fill="#fff"/>
<rect x="388" y="338" width="1" height="3" fill="#fff"/>
<rect x="391" y="338" width="1" height="3" fill="#fff"/>
<rect x="394" y="338" width="1" height="3" fill="#fff"/>
<rect x="343" y="283" width="3" height="1" fill="#fff"/>
<rect x="343" y="286" width="3" height="1" fill="#fff"/>
<rect x="343" y="289" width="3" height="1" fill="#fff"/>
<rect x="343" y="292" width="3" height="1" fill="#fff"/>
<rect x="343" y="306" width="3" height="1" fill="#fff"/>
<rect x="343" y="309" width="3" height="1" fill="#fff"/>
<rect x="343" y="312" width="3" height="1" fill="#fff"/>
<rect x="343" y="321" width="3" height="1" fill="#fff"/>
<rect x="343" y="324" width="3" height="1" fill="#fff"/>
<rect x="343" y="327" width="3" height="1" fill="#fff"/>
<rect x="406" y="282" width="3" height="1" fill="#fff"/>
<rect x="406" y="285" width="3" height="1" fill="#fff"/>
<rect x="406" y="288" width="3" height="1" fill="#fff"/>
<rect x="406" y="291" width="3" height="1" fill="#fff"/>
<rect x="406" y="305" width="3" height="1" fill="#fff"/>
<rect x="406" y="308" width="3" height="1" fill="#fff"/>
<rect x="406" y="311" width="3" height="1" fill="#fff"/>
<rect x="406" y="314" width="3" height="1" fill="#fff"/>
<rect x="406" y="323" width="3" height="1" fill="#fff"/>
<rect x="406" y="326" width="3" height="1" fill="#fff"/>
<polygon points="254,302 309,302 309,304 311,304 311,307 314,307 314,363 311,364 311,366 308,366 308,368 253,368 253,366 251,366 251,363 248,363 248,307 251,307 251,304 254,304" fill="#000"/>
<rect x="259" y="302" width="1" height="3" fill="#fff"/>
<rect x="262" y="302" width="1" height="3" fill="#fff"/>
<rect x="274" y="302" width="1" height="3" fill="#fff"/>
<rect x="277" y="302" width="1" height="3" fill="#fff"/>
<rect x="280" y="302" width="1" height="3" fill="#fff"/>
<rect x="289" y="302" width="1" height="3" fill="#fff"/>
<rect x="292" y="302" width="1" height="3" fill="#fff"/>
<rect x="255" y="365" width="1" height="3" fill="#fff"/>
<rect x="258" y="365" width="1" height="3" fill="#fff"/>
<rect x="272" y="365" width="1" height="3" fill="#fff"/>
<rect x="275" y="365" width="1" height="3" fill="#fff"/>
<rect x="278" y="365" width="1" height="3" fill="#fff"/>
<rect x="292" y="365" width="1" height="3" fill="#fff"/>
<rect x="295" y="365" width="1" height="3" fill="#fff"/>
<rect x="248" y="312" width="3" height="1" fill="#fff"/>
<rect x="248" y="315" width="3" height="1" fill="#fff"/>
<rect x="248" y="318" width="3" height="1" fill="#fff"/>
<rect x="248" y="329" width="3" height="1" fill="#fff"/>
<rect x="248" y="332" width="3" height="1" fill="#fff"/>
<rect x="248" y="335" width="3" height="1" fill="#fff"/>
<rect x="248" y="346" width="3" height="1" fill="#fff"/>
<rect x="248" y="349" width="3" height="1" fill="#fff"/>
<rect x="248" y="352" width="3" height="1" fill="#fff"/>
<rect x="311" y="309" width="3" height="1" fill="#fff"/>
<rect x="311" y="312" width="3" height="1" fill="#fff"/>
<rect x="311" y="324" width="3" height="1" fill="#fff"/>
<rect x="311" y="327" width="3" height="1" fill="#fff"/>
<rect x="311" y="338" width="3" height="1" fill="#fff"/>
<rect x="311" y="341" width="3" height="1" fill="#fff"/>
<rect x="311" y="344" width="3" height="1" fill="#fff"/>
<rect x="311" y="347" width="3" height="1" fill="#fff"/>
<rect x="543" y="95" width="13" height="48" fill="#000"/>
<rect class="a" x="544.50" y="100.58" width="10" height="1.6" fill="#fff"/>
<rect class="a" x="544.50" y="106.45" width="10" height="1.6" fill="#fff"/>
<rect class="a" x="544.50" y="112.33" width="10" height="1.6" fill="#fff"/>
<rect class="a" x="544.50" y="118.20" width="10" height="1.6" fill="#fff"/>
<rect class="a" x="544.50" y="124.08" width="10" height="1.6" fill="#fff"/>
<rect class="a" x="544.50" y="129.95" width="10" height="1.6" fill="#fff"/>
<rect class="a" x="544.50" y="135.82" width="10" height="1.6" fill="#fff"/>
<rect x="549" y="96" width="1" height="46" fill="#fff"/>
<rect x="554" y="96" width="1" height="41" fill="#fff"/>
<rect x="564" y="111" width="13" height="31" fill="#000"/>
<rect class="a" x="565.00" y="112.00" width="1.2" height="29" fill="#fff"/>
<rect class="a" x="574.80" y="112.00" width="1.2" height="29" fill="#fff"/>
<rect class="a" x="569.80" y="112.00" width="1.4" height="29" fill="#fff"/>
<rect class="a" x="565.00" y="112.00" width="11" height="1.4" fill="#fff"/>
<rect class="a" x="565.00" y="117.52" width="11" height="1.4" fill="#fff"/>
<rect class="a" x="565.00" y="123.04" width="11" height="1.4" fill="#fff"/>
<rect class="a" x="565.00" y="128.56" width="11" height="1.4" fill="#fff"/>
<rect class="a" x="565.00" y="134.08" width="11" height="1.4" fill="#fff"/>
<rect class="a" x="565.00" y="139.60" width="11" height="1.4" fill="#fff"/>
<rect x="543" y="148" width="13" height="101" fill="#000"/>
<rect class="a" x="544.00" y="149.00" width="1.2" height="99" fill="#fff"/>
<rect class="a" x="553.80" y="149.00" width="1.2" height="99" fill="#fff"/>
<rect class="a" x="548.80" y="149.00" width="1.4" height="99" fill="#fff"/>
<rect class="a" x="544.00" y="149.00" width="11" height="1.4" fill="#fff"/>
<rect class="a" x="544.00" y="154.74" width="11" height="1.4" fill="#fff"/>
<rect class="a" x="544.00" y="160.48" width="11" height="1.4" fill="#fff"/>
<rect class="a" x="544.00" y="166.22" width="11" height="1.4" fill="#fff"/>
<rect class="a" x="544.00" y="171.96" width="11" height="1.4" fill="#fff"/>
<rect class="a" x="544.00" y="177.71" width="11" height="1.4" fill="#fff"/>
<rect class="a" x="544.00" y="183.45" width="11" height="1.4" fill="#fff"/>
<rect class="a" x="544.00" y="189.19" width="11" height="1.4" fill="#fff"/>
<rect class="a" x="544.00" y="194.93" width="11" height="1.4" fill="#fff"/>
<rect class="a" x="544.00" y="200.67" width="11" height="1.4" fill="#fff"/>
<rect class="a" x="544.00" y="206.41" width="11" height="1.4" fill="#fff"/>
<rect class="a" x="544.00" y="212.15" width="11" height="1.4" fill="#fff"/>
<rect class="a" x="544.00" y="217.89" width="11" height="1.4" fill="#fff"/>
<rect class="a" x="544.00" y="223.64" width="11" height="1.4" fill="#fff"/>
<rect class="a" x="544.00" y="229.38" width="11" height="1.4" fill="#fff"/>
<rect class="a" x="544.00" y="235.12" width="11" height="1.4" fill="#fff"/>
<rect class="a" x="544.00" y="240.86" width="11" height="1.4" fill="#fff"/>
<rect class="a" x="544.00" y="246.60" width="11" height="1.4" fill="#fff"/>
<rect x="565" y="149" width="12" height="119" fill="#000"/>
<rect class="a" x="566.50" y="154.60" width="9" height="1.6" fill="#fff"/>
<rect class="a" x="566.50" y="160.50" width="9" height="1.6" fill="#fff"/>
<rect class="a" x="566.50" y="166.40" width="9" height="1.6" fill="#fff"/>
<rect class="a" x="566.50" y="172.30" width="9" height="1.6" fill="#fff"/>
<rect class="a" x="566.50" y="178.20" width="9" height="1.6" fill="#fff"/>
<rect class="a" x="566.50" y="184.10" width="9" height="1.6" fill="#fff"/>
<rect class="a" x="566.50" y="190.00" width="9" height="1.6" fill="#fff"/>
<rect class="a" x="566.50" y="195.90" width="9" height="1.6" fill="#fff"/>
<rect class="a" x="566.50" y="201.80" width="9" height="1.6" fill="#fff"/>
<rect class="a" x="566.50" y="207.70" width="9" height="1.6" fill="#fff"/>
<rect class="a" x="566.50" y="213.60" width="9" height="1.6" fill="#fff"/>
<rect class="a" x="566.50" y="219.50" width="9" height="1.6" fill="#fff"/>
<rect class="a" x="566.50" y="225.40" width="9" height="1.6" fill="#fff"/>
<rect class="a" x="566.50" y="231.30" width="9" height="1.6" fill="#fff"/>
<rect class="a" x="566.50" y="237.20" width="9" height="1.6" fill="#fff"/>
<rect class="a" x="566.50" y="243.10" width="9" height="1.6" fill="#fff"/>
<rect class="a" x="566.50" y="249.00" width="9" height="1.6" fill="#fff"/>
<rect class="a" x="566.50" y="254.90" width="9" height="1.6" fill="#fff"/>
<rect class="a" x="566.50" y="260.80" width="9" height="1.6" fill="#fff"/>
<rect x="570.5" y="150" width="1" height="117" fill="#fff"/>
<rect x="544" y="256" width="13" height="118" fill="#000"/>
<rect class="a" x="545.00" y="257.00" width="1.2" height="116" fill="#fff"/>
<rect class="a" x="554.80" y="257.00" width="1.2" height="116" fill="#fff"/>
<rect class="a" x="549.80" y="257.00" width="1.4" height="116" fill="#fff"/>
<rect class="a" x="545.00" y="257.00" width="11" height="1.4" fill="#fff"/>
<rect class="a" x="545.00" y="262.73" width="11" height="1.4" fill="#fff"/>
<rect class="a" x="545.00" y="268.46" width="11" height="1.4" fill="#fff"/>
<rect class="a" x="545.00" y="274.19" width="11" height="1.4" fill="#fff"/>
<rect class="a" x="545.00" y="279.92" width="11" height="1.4" fill="#fff"/>
<rect class="a" x="545.00" y="285.65" width="11" height="1.4" fill="#fff"/>
<rect class="a" x="545.00" y="291.38" width="11" height="1.4" fill="#fff"/>
<rect class="a" x="545.00" y="297.11" width="11" height="1.4" fill="#fff"/>
<rect class="a" x="545.00" y="302.84" width="11" height="1.4" fill="#fff"/>
<rect class="a" x="545.00" y="308.57" width="11" height="1.4" fill="#fff"/>
<rect class="a" x="545.00" y="314.30" width="11" height="1.4" fill="#fff"/>
<rect class="a" x="545.00" y="320.03" width="11" height="1.4" fill="#fff"/>
<rect class="a" x="545.00" y="325.76" width="11" height="1.4" fill="#fff"/>
<rect class="a" x="545.00" y="331.49" width="11" height="1.4" fill="#fff"/>
<rect class="a" x="545.00" y="337.22" width="11" height="1.4" fill="#fff"/>
<rect class="a" x="545.00" y="342.95" width="11" height="1.4" fill="#fff"/>
<rect class="a" x="545.00" y="348.68" width="11" height="1.4" fill="#fff"/>
<rect class="a" x="545.00" y="354.41" width="11" height="1.4" fill="#fff"/>
<rect class="a" x="545.00" y="360.14" width="11" height="1.4" fill="#fff"/>
<rect class="a" x="545.00" y="365.87" width="11" height="1.4" fill="#fff"/>
<rect class="a" x="545.00" y="371.60" width="11" height="1.4" fill="#fff"/>
<rect x="565" y="280" width="12" height="101" fill="#000"/>
<rect class="a" x="566.50" y="285.58" width="9" height="1.6" fill="#fff"/>
<rect class="a" x="566.50" y="291.46" width="9" height="1.6" fill="#fff"/>
<rect class="a" x="566.50" y="297.35" width="9" height="1.6" fill="#fff"/>
<rect class="a" x="566.50" y="303.23" width="9" height="1.6" fill="#fff"/>
<rect class="a" x="566.50" y="309.11" width="9" height="1.6" fill="#fff"/>
<rect class="a" x="566.50" y="314.99" width="9" height="1.6" fill="#fff"/>
<rect class="a" x="566.50" y="320.88" width="9" height="1.6" fill="#fff"/>
<rect class="a" x="566.50" y="326.76" width="9" height="1.6" fill="#fff"/>
<rect class="a" x="566.50" y="332.64" width="9" height="1.6" fill="#fff"/>
<rect class="a" x="566.50" y="338.52" width="9" height="1.6" fill="#fff"/>
<rect class="a" x="566.50" y="344.41" width="9" height="1.6" fill="#fff"/>
<rect class="a" x="566.50" y="350.29" width="9" height="1.6" fill="#fff"/>
<rect class="a" x="566.50" y="356.17" width="9" height="1.6" fill="#fff"/>
<rect class="a" x="566.50" y="362.05" width="9" height="1.6" fill="#fff"/>
<rect class="a" x="566.50" y="367.94" width="9" height="1.6" fill="#fff"/>
<rect class="a" x="566.50" y="373.82" width="9" height="1.6" fill="#fff"/>
<rect x="570.5" y="281" width="1" height="99" fill="#fff"/>
<rect x="341" y="354" width="105" height="12.6" fill="#000"/>
<rect class="a" x="342.00" y="355" width="1.7" height="10.6" fill="#fff"/>
<rect class="a" x="347.96" y="355" width="1.7" height="10.6" fill="#fff"/>
<rect class="a" x="353.92" y="355" width="1.7" height="10.6" fill="#fff"/>
<rect class="a" x="359.88" y="355" width="1.7" height="10.6" fill="#fff"/>
<rect class="a" x="365.84" y="355" width="1.7" height="10.6" fill="#fff"/>
<rect class="a" x="371.79" y="355" width="1.7" height="10.6" fill="#fff"/>
<rect class="a" x="377.75" y="355" width="1.7" height="10.6" fill="#fff"/>
<rect class="a" x="383.71" y="355" width="1.7" height="10.6" fill="#fff"/>
<rect class="a" x="389.67" y="355" width="1.7" height="10.6" fill="#fff"/>
<rect class="a" x="395.63" y="355" width="1.7" height="10.6" fill="#fff"/>
<rect class="a" x="401.59" y="355" width="1.7" height="10.6" fill="#fff"/>
<rect class="a" x="407.55" y="355" width="1.7" height="10.6" fill="#fff"/>
<rect class="a" x="413.51" y="355" width="1.7" height="10.6" fill="#fff"/>
<rect class="a" x="419.46" y="355" width="1.7" height="10.6" fill="#fff"/>
<rect class="a" x="425.42" y="355" width="1.7" height="10.6" fill="#fff"/>
<rect class="a" x="431.38" y="355" width="1.7" height="10.6" fill="#fff"/>
<rect class="a" x="437.34" y="355" width="1.7" height="10.6" fill="#fff"/>
<rect class="a" x="443.30" y="355" width="1.7" height="10.6" fill="#fff"/>
<rect class="a" x="342" y="359.67" width="103" height="1.5" fill="#fff"/>
<rect class="a" x="342" y="364.8" width="103" height="0.8" fill="#fff"/>
<rect x="452" y="354" width="83" height="12.6" fill="#000"/>
<rect class="a" x="453.00" y="355" width="1.7" height="10.6" fill="#fff"/>
<rect class="a" x="458.66" y="355" width="1.7" height="10.6" fill="#fff"/>
<rect class="a" x="464.33" y="355" width="1.7" height="10.6" fill="#fff"/>
<rect class="a" x="469.99" y="355" width="1.7" height="10.6" fill="#fff"/>
<rect class="a" x="475.66" y="355" width="1.7" height="10.6" fill="#fff"/>
<rect class="a" x="481.32" y="355" width="1.7" height="10.6" fill="#fff"/>
<rect class="a" x="486.99" y="355" width="1.7" height="10.6" fill="#fff"/>
<rect class="a" x="492.65" y="355" width="1.7" height="10.6" fill="#fff"/>
<rect class="a" x="498.31" y="355" width="1.7" height="10.6" fill="#fff"/>
<rect class="a" x="503.98" y="355" width="1.7" height="10.6" fill="#fff"/>
<rect class="a" x="509.64" y="355" width="1.7" height="10.6" fill="#fff"/>
<rect class="a" x="515.31" y="355" width="1.7" height="10.6" fill="#fff"/>
<rect class="a" x="520.97" y="355" width="1.7" height="10.6" fill="#fff"/>
<rect class="a" x="526.64" y="355" width="1.7" height="10.6" fill="#fff"/>
<rect class="a" x="532.30" y="355" width="1.7" height="10.6" fill="#fff"/>
<rect class="a" x="453" y="359.67" width="81" height="1.5" fill="#fff"/>
<rect class="a" x="453" y="364.8" width="81" height="0.8" fill="#fff"/>
<rect x="367" y="368" width="154" height="12" fill="#000"/>
<rect class="a" x="368.00" y="369" width="1.7" height="10" fill="#fff"/>
<rect class="a" x="374.01" y="369" width="1.7" height="10" fill="#fff"/>
<rect class="a" x="380.02" y="369" width="1.7" height="10" fill="#fff"/>
<rect class="a" x="386.04" y="369" width="1.7" height="10" fill="#fff"/>
<rect class="a" x="392.05" y="369" width="1.7" height="10" fill="#fff"/>
<rect class="a" x="398.06" y="369" width="1.7" height="10" fill="#fff"/>
<rect class="a" x="404.07" y="369" width="1.7" height="10" fill="#fff"/>
<rect class="a" x="410.08" y="369" width="1.7" height="10" fill="#fff"/>
<rect class="a" x="416.10" y="369" width="1.7" height="10" fill="#fff"/>
<rect class="a" x="422.11" y="369" width="1.7" height="10" fill="#fff"/>
<rect class="a" x="428.12" y="369" width="1.7" height="10" fill="#fff"/>
<rect class="a" x="434.13" y="369" width="1.7" height="10" fill="#fff"/>
<rect class="a" x="440.14" y="369" width="1.7" height="10" fill="#fff"/>
<rect class="a" x="446.16" y="369" width="1.7" height="10" fill="#fff"/>
<rect class="a" x="452.17" y="369" width="1.7" height="10" fill="#fff"/>
<rect class="a" x="458.18" y="369" width="1.7" height="10" fill="#fff"/>
<rect class="a" x="464.19" y="369" width="1.7" height="10" fill="#fff"/>
<rect class="a" x="470.20" y="369" width="1.7" height="10" fill="#fff"/>
<rect class="a" x="476.22" y="369" width="1.7" height="10" fill="#fff"/>
<rect class="a" x="482.23" y="369" width="1.7" height="10" fill="#fff"/>
<rect class="a" x="488.24" y="369" width="1.7" height="10" fill="#fff"/>
<rect class="a" x="494.25" y="369" width="1.7" height="10" fill="#fff"/>
<rect class="a" x="500.26" y="369" width="1.7" height="10" fill="#fff"/>
<rect class="a" x="506.28" y="369" width="1.7" height="10" fill="#fff"/>
<rect class="a" x="512.29" y="369" width="1.7" height="10" fill="#fff"/>
<rect class="a" x="518.30" y="369" width="1.7" height="10" fill="#fff"/>
<rect class="a" x="368" y="373.40" width="152" height="1.5" fill="#fff"/>
<rect x="42" y="395" width="48" height="13" fill="#000"/>
<rect class="a" x="43.00" y="396" width="1.25" height="11" fill="#fff"/>
<rect class="a" x="48.59" y="396" width="1.25" height="11" fill="#fff"/>
<rect class="a" x="54.19" y="396" width="1.25" height="11" fill="#fff"/>
<rect class="a" x="59.78" y="396" width="1.25" height="11" fill="#fff"/>
<rect class="a" x="65.38" y="396" width="1.25" height="11" fill="#fff"/>
<rect class="a" x="70.97" y="396" width="1.25" height="11" fill="#fff"/>
<rect class="a" x="76.56" y="396" width="1.25" height="11" fill="#fff"/>
<rect class="a" x="82.16" y="396" width="1.25" height="11" fill="#fff"/>
<rect class="a" x="87.75" y="396" width="1.25" height="11" fill="#fff"/>
<rect class="a" x="43" y="400.59" width="46" height="1.5" fill="#fff"/>
<rect class="a" x="43" y="406.2" width="46" height="0.8" fill="#fff"/>
<rect x="164" y="395" width="101" height="13" fill="#000"/>
<rect class="a" x="165.00" y="396" width="1.25" height="11" fill="#fff"/>
<rect class="a" x="170.75" y="396" width="1.25" height="11" fill="#fff"/>
<rect class="a" x="176.50" y="396" width="1.25" height="11" fill="#fff"/>
<rect class="a" x="182.25" y="396" width="1.25" height="11" fill="#fff"/>
<rect class="a" x="188.00" y="396" width="1.25" height="11" fill="#fff"/>
<rect class="a" x="193.75" y="396" width="1.25" height="11" fill="#fff"/>
<rect class="a" x="199.50" y="396" width="1.25" height="11" fill="#fff"/>
<rect class="a" x="205.25" y="396" width="1.25" height="11" fill="#fff"/>
<rect class="a" x="211.00" y="396" width="1.25" height="11" fill="#fff"/>
<rect class="a" x="216.75" y="396" width="1.25" height="11" fill="#fff"/>
<rect class="a" x="222.50" y="396" width="1.25" height="11" fill="#fff"/>
<rect class="a" x="228.25" y="396" width="1.25" height="11" fill="#fff"/>
<rect class="a" x="234.00" y="396" width="1.25" height="11" fill="#fff"/>
<rect class="a" x="239.75" y="396" width="1.25" height="11" fill="#fff"/>
<rect class="a" x="245.50" y="396" width="1.25" height="11" fill="#fff"/>
<rect class="a" x="251.25" y="396" width="1.25" height="11" fill="#fff"/>
<rect class="a" x="257.00" y="396" width="1.25" height="11" fill="#fff"/>
<rect class="a" x="262.75" y="396" width="1.25" height="11" fill="#fff"/>
<rect class="a" x="165" y="400.59" width="99" height="1.5" fill="#fff"/>
<rect class="a" x="165" y="406.2" width="99" height="0.8" fill="#fff"/>
<rect x="311" y="400.3" width="18.3" height="7.1" fill="#000"/>
<rect class="a" x="312.00" y="401.3" width="1.3" height="5.1" fill="#fff"/>
<rect class="a" x="317.00" y="401.3" width="1.3" height="5.1" fill="#fff"/>
<rect class="a" x="322.00" y="401.3" width="1.3" height="5.1" fill="#fff"/>
<rect class="a" x="327.00" y="401.3" width="1.3" height="5.1" fill="#fff"/>
<rect class="a" x="312" y="405.6" width="16.3" height="0.8" fill="#fff"/>
<rect x="339" y="394" width="25" height="14" fill="#000"/>
<rect class="a" x="340.00" y="395" width="1.3" height="12" fill="#fff"/>
<rect class="a" x="345.43" y="395" width="1.3" height="12" fill="#fff"/>
<rect class="a" x="350.85" y="395" width="1.3" height="12" fill="#fff"/>
<rect class="a" x="356.27" y="395" width="1.3" height="12" fill="#fff"/>
<rect class="a" x="361.70" y="395" width="1.3" height="12" fill="#fff"/>
<rect class="a" x="340" y="400.30" width="23" height="1.5" fill="#fff"/>
<rect class="a" x="340" y="406.2" width="23" height="0.8" fill="#fff"/>
<rect x="436" y="400.8" width="25" height="7" fill="#000"/>
<rect class="a" x="437.00" y="401.8" width="1.3" height="5" fill="#fff"/>
<rect class="a" x="442.43" y="401.8" width="1.3" height="5" fill="#fff"/>
<rect class="a" x="447.85" y="401.8" width="1.3" height="5" fill="#fff"/>
<rect class="a" x="453.27" y="401.8" width="1.3" height="5" fill="#fff"/>
<rect class="a" x="458.70" y="401.8" width="1.3" height="5" fill="#fff"/>
<rect class="a" x="437" y="406" width="23" height="0.8" fill="#fff"/>
<rect x="466" y="400.8" width="49" height="7" fill="#000"/>
<rect class="a" x="467.00" y="401.8" width="1.3" height="5" fill="#fff"/>
<rect class="a" x="472.71" y="401.8" width="1.3" height="5" fill="#fff"/>
<rect class="a" x="478.43" y="401.8" width="1.3" height="5" fill="#fff"/>
<rect class="a" x="484.14" y="401.8" width="1.3" height="5" fill="#fff"/>
<rect class="a" x="489.85" y="401.8" width="1.3" height="5" fill="#fff"/>
<rect class="a" x="495.56" y="401.8" width="1.3" height="5" fill="#fff"/>
<rect class="a" x="501.27" y="401.8" width="1.3" height="5" fill="#fff"/>
<rect class="a" x="506.99" y="401.8" width="1.3" height="5" fill="#fff"/>
<rect class="a" x="512.70" y="401.8" width="1.3" height="5" fill="#fff"/>
<rect class="a" x="467" y="406" width="47" height="0.8" fill="#fff"/>
<rect x="519" y="400.8" width="25.7" height="7" fill="#000"/>
<rect class="a" x="520.00" y="401.8" width="1.3" height="5" fill="#fff"/>
<rect class="a" x="525.60" y="401.8" width="1.3" height="5" fill="#fff"/>
<rect class="a" x="531.20" y="401.8" width="1.3" height="5" fill="#fff"/>
<rect class="a" x="536.80" y="401.8" width="1.3" height="5" fill="#fff"/>
<rect class="a" x="542.40" y="401.8" width="1.3" height="5" fill="#fff"/>
<rect class="a" x="520" y="406" width="23.7" height="0.8" fill="#fff"/>
<rect x="444" y="251" width="19" height="13" fill="#000"/>
<rect class="a" x="445.00" y="252" width="1.3" height="11" fill="#fff"/>
<rect class="a" x="450.23" y="252" width="1.3" height="11" fill="#fff"/>
<rect class="a" x="455.47" y="252" width="1.3" height="11" fill="#fff"/>
<rect class="a" x="460.70" y="252" width="1.3" height="11" fill="#fff"/>
<rect class="a" x="445" y="256.85" width="17" height="1.5" fill="#fff"/>
<rect class="a" x="445" y="262.2" width="17" height="0.8" fill="#fff"/>
<rect x="375" y="393" width="8" height="15" fill="#000"/>
<rect x="376" y="394" width="6" height="13" fill="#fff"/>
<rect x="377" y="395" width="4" height="5" fill="#000"/>
<rect x="378" y="396" width="2" height="2" fill="#fff"/>
<rect x="377" y="401" width="4" height="5" fill="#000"/>
<rect x="302" y="62" width="7" height="19" fill="#000"/>
<rect x="303" y="63" width="5" height="4" fill="#fff"/>
<rect x="304" y="64" width="3" height="2" fill="#000"/>
<rect x="303" y="68" width="5" height="1" fill="#fff"/>
<rect x="303" y="74" width="5" height="1" fill="#fff"/>
<rect x="43" y="87" width="19" height="7" fill="#000"/>
<rect x="48.8333" y="88" width="1" height="5" fill="#fff"/>
<rect x="55.1667" y="88" width="1" height="5" fill="#fff"/>
<rect x="57" y="89" width="3" height="3" fill="#fff"/>
<rect x="171" y="37" width="15" height="8" fill="#000"/>
<rect x="172" y="38" width="13" height="6" fill="#fff"/>
<rect x="173" y="38" width="5" height="5" fill="#000"/>
<rect x="179" y="38" width="5" height="5" fill="#000"/>
<rect x="171" y="48" width="15" height="8" fill="#000"/>
<rect x="172" y="49" width="13" height="6" fill="#fff"/>
<rect x="173" y="49" width="5" height="5" fill="#000"/>
<rect x="179" y="49" width="5" height="5" fill="#000"/>
<rect x="259" y="37" width="15" height="8" fill="#000"/>
<rect x="260" y="38" width="13" height="6" fill="#fff"/>
<rect x="261" y="38" width="5" height="5" fill="#000"/>
<rect x="267" y="38" width="5" height="5" fill="#000"/>
<rect x="259" y="48" width="15" height="8" fill="#000"/>
<rect x="260" y="49" width="13" height="6" fill="#fff"/>
<rect x="261" y="49" width="5" height="5" fill="#000"/>
<rect x="267" y="49" width="5" height="5" fill="#000"/>
<rect x="227" y="37" width="20" height="8" fill="#000"/>
<rect x="228" y="38" width="18" height="6" fill="#fff"/>
<rect x="229" y="39" width="4" height="4" fill="#000"/>
<rect x="230" y="40" width="2" height="2" fill="#fff"/>
<rect x="235" y="38" width="4" height="5" fill="#000"/>
<rect x="241" y="39" width="4" height="4" fill="#000"/>
<rect x="227" y="48" width="20" height="8" fill="#000"/>
<rect x="228" y="49" width="18" height="6" fill="#fff"/>
<rect x="229" y="50" width="4" height="4" fill="#000"/>
<rect x="230" y="51" width="2" height="2" fill="#fff"/>
<rect x="235" y="49" width="4" height="5" fill="#000"/>
<rect x="241" y="50" width="4" height="4" fill="#000"/>
<rect x="314" y="255" width="19" height="7" fill="#000"/>
<rect x="319.833" y="256" width="1" height="5" fill="#fff"/>
<rect x="326.167" y="256" width="1" height="5" fill="#fff"/>
<rect x="315" y="256" width="4.83333" height="5" fill="#fff"/>
<rect x="316" y="257" width="2.33333" height="3" fill="#000"/>
<rect x="317" y="258" width="0.333333" height="1" fill="#fff"/>
<rect x="314" y="264" width="19" height="7" fill="#000"/>
<rect x="319.833" y="265" width="1" height="5" fill="#fff"/>
<rect x="326.167" y="265" width="1" height="5" fill="#fff"/>
<rect x="315" y="265" width="4.83333" height="5" fill="#fff"/>
<rect x="316" y="266" width="2.33333" height="3" fill="#000"/>
<rect x="317" y="267" width="0.333333" height="1" fill="#fff"/>
<rect x="314" y="273" width="19" height="7" fill="#000"/>
<rect x="319.833" y="274" width="1" height="5" fill="#fff"/>
<rect x="326.167" y="274" width="1" height="5" fill="#fff"/>
<rect x="315" y="274" width="4.83333" height="5" fill="#fff"/>
<rect x="316" y="275" width="2.33333" height="3" fill="#000"/>
<rect x="317" y="276" width="0.333333" height="1" fill="#fff"/>
<rect x="417" y="333" width="7" height="19" fill="#000"/>
<rect x="418" y="335" width="5" height="1" fill="#fff"/>
<rect x="419" y="337" width="3" height="1" fill="#fff"/>
<rect x="418" y="339" width="5" height="1" fill="#fff"/>
<rect x="418" y="345" width="5" height="1" fill="#fff"/>
<rect x="426" y="333" width="7" height="19" fill="#000"/>
<rect x="427" y="335" width="5" height="1" fill="#fff"/>
<rect x="428" y="337" width="3" height="1" fill="#fff"/>
<rect x="427" y="339" width="5" height="1" fill="#fff"/>
<rect x="427" y="345" width="5" height="1" fill="#fff"/>
<rect x="435" y="333" width="7" height="19" fill="#000"/>
<rect x="436" y="335" width="5" height="1" fill="#fff"/>
<rect x="437" y="337" width="3" height="1" fill="#fff"/>
<rect x="436" y="339" width="5" height="1" fill="#fff"/>
<rect x="436" y="345" width="5" height="1" fill="#fff"/>
<rect x="444" y="333" width="7" height="19" fill="#000"/>
<rect x="445" y="334" width="5" height="17" fill="#fff"/>
<rect x="446" y="335" width="3" height="4" fill="#000"/>
<rect x="447" y="336" width="1" height="2" fill="#fff"/>
<rect x="446" y="341" width="3" height="4" fill="#000"/>
<rect x="446" y="347" width="3" height="4" fill="#000"/>
<rect x="454" y="333" width="7" height="19" fill="#000"/>
<rect x="455" y="335" width="5" height="1" fill="#fff"/>
<rect x="456" y="337" width="3" height="1" fill="#fff"/>
<rect x="455" y="339" width="5" height="1" fill="#fff"/>
<rect x="455" y="345" width="5" height="1" fill="#fff"/>
<rect x="517" y="244" width="19" height="7" fill="#000"/>
<rect x="522.833" y="245" width="1" height="5" fill="#fff"/>
<rect x="529.167" y="245" width="1" height="5" fill="#fff"/>
<rect x="518" y="245" width="4.83333" height="5" fill="#fff"/>
<rect x="519" y="246" width="2.33333" height="3" fill="#000"/>
<rect x="520" y="247" width="0.333333" height="1" fill="#fff"/>
<rect x="517" y="253" width="19" height="7" fill="#000"/>
<rect x="522.833" y="254" width="1" height="5" fill="#fff"/>
<rect x="529.167" y="254" width="1" height="5" fill="#fff"/>
<rect x="518" y="254" width="4.83333" height="5" fill="#fff"/>
<rect x="519" y="255" width="2.33333" height="3" fill="#000"/>
<rect x="520" y="256" width="0.333333" height="1" fill="#fff"/>
<rect x="517" y="262" width="19" height="7" fill="#000"/>
<rect x="522.833" y="263" width="1" height="5" fill="#fff"/>
<rect x="529.167" y="263" width="1" height="5" fill="#fff"/>
<rect x="518" y="263" width="4.83333" height="5" fill="#fff"/>
<rect x="519" y="264" width="2.33333" height="3" fill="#000"/>
<rect x="520" y="265" width="0.333333" height="1" fill="#fff"/>
<rect x="517" y="270" width="19" height="7" fill="#000"/>
<rect x="522.833" y="271" width="1" height="5" fill="#fff"/>
<rect x="529.167" y="271" width="1" height="5" fill="#fff"/>
<rect x="518" y="271" width="4.83333" height="5" fill="#fff"/>
<rect x="519" y="272" width="2.33333" height="3" fill="#000"/>
<rect x="520" y="273" width="0.333333" height="1" fill="#fff"/>
<rect x="520" y="298" width="16" height="7" fill="#000"/>
<rect class="a" x="521.5" y="299" width="1.6" height="5" fill="#fff"/>
<rect class="a" x="526.5" y="299" width="1.6" height="5" fill="#fff"/>
<rect class="a" x="532" y="299" width="1.6" height="5" fill="#fff"/>
<rect x="520" y="307" width="16" height="7" fill="#000"/>
<rect x="521" y="308" width="14" height="5" fill="#fff"/>
<rect x="522" y="309" width="5" height="3" fill="#000"/>
<rect x="529" y="309" width="5" height="3" fill="#000"/>
<rect x="520" y="315" width="16" height="7" fill="#000"/>
<rect class="a" x="521.5" y="316" width="1.6" height="5" fill="#fff"/>
<rect class="a" x="526.5" y="316" width="1.6" height="5" fill="#fff"/>
<rect class="a" x="532" y="316" width="1.6" height="5" fill="#fff"/>
<text transform="scale(0.78,1)" x="563.85" y="255.5" font-size="14" fill="#000" stroke="#000" stroke-width="0.15" text-anchor="middle">2</text>
<polygon class="a" points="27.0,95.5 30.5,93.6 33.5,92.5 37.5,91.9 39.0,91.6 43.0,91.6 43.0,89.4 39.0,89.4 37.5,89.1 33.5,88.5 30.5,87.4 27.0,85.5" fill="#000"/>
<polygon class="a" points="25.0,91.7 33.2,90.9 33.2,90.1 25.0,89.3" fill="#fff"/>
<polygon class="a" points="159.7,33.1 163.0,35.9 166.6,38.0 171.1,42.0 172.9,40.0 168.4,35.9 166.0,32.6 162.9,29.5" fill="#000"/>
<polygon class="a" points="159.4,30.4 166.5,36.4 166.9,36.0 160.1,29.6" fill="#fff"/>
<polygon class="a" points="154.8,56.5 158.4,54.7 161.4,53.7 165.4,53.2 167.0,53.0 171.0,53.1 171.0,50.9 167.0,50.8 165.5,50.4 161.6,49.7 158.6,48.5 155.2,46.5" fill="#000"/>
<polygon class="a" points="153.0,52.5 161.2,52.1 161.2,51.3 153.0,50.3" fill="#fff"/>
<polygon class="a" points="234.6,19.0 235.4,22.5 236.5,25.5 237.1,29.5 237.4,31.0 237.4,37.0 239.6,37.0 239.6,31.0 239.9,29.5 240.5,25.5 241.6,22.5 242.4,19.0" fill="#000"/>
<polygon class="a" points="237.3,17.0 238.1,25.2 238.9,25.2 239.7,17.0" fill="#fff"/>
<polygon class="a" points="291.0,47.0 287.5,48.9 284.5,50.0 280.5,50.6 279.0,50.9 274.0,50.9 274.0,53.1 279.0,53.1 280.5,53.4 284.5,54.0 287.5,55.1 291.0,57.0" fill="#000"/>
<polygon class="a" points="293.0,50.9 284.8,51.6 284.8,52.4 293.0,53.1" fill="#fff"/>
<polygon class="a" points="284.3,29.5 280.9,32.5 278.1,35.9 273.2,40.0 274.8,42.0 279.8,38.0 283.7,35.9 287.3,33.2" fill="#000"/>
<polygon class="a" points="287.0,29.7 279.7,36.0 280.0,36.4 287.7,30.5" fill="#fff"/>
<polygon class="a" points="325.0,67.0 321.5,68.9 318.5,70.0 314.5,70.6 313.0,70.9 309.0,70.9 309.0,73.1 313.0,73.1 314.5,73.4 318.5,74.0 321.5,75.1 325.0,77.0" fill="#000"/>
<polygon class="a" points="327.0,70.8 318.8,71.6 318.8,72.4 327.0,73.2" fill="#fff"/>
<polygon class="a" points="301.8,251.4 305.4,253.8 309.2,255.5 314.2,259.1 315.8,256.9 310.9,253.3 308.0,250.2 304.6,247.5" fill="#000"/>
<polygon class="a" points="301.3,248.7 309.0,254.0 309.3,253.5 301.9,247.8" fill="#fff"/>
<polygon class="a" points="298.5,272.5 301.9,270.6 304.8,269.5 308.7,268.9 310.1,268.6 314.0,268.6 314.0,266.4 310.1,266.4 308.7,266.1 304.8,265.5 301.9,264.4 298.5,262.5" fill="#000"/>
<polygon class="a" points="296.5,268.6 304.5,267.9 304.5,267.1 296.5,266.4" fill="#fff"/>
<polygon class="a" points="304.9,289.4 308.2,286.2 311.0,282.5 315.9,278.0 314.1,276.0 309.1,280.5 305.2,282.9 301.6,285.9" fill="#000"/>
<polygon class="a" points="302.2,289.4 309.3,282.5 308.9,282.1 301.4,288.6" fill="#fff"/>
<polygon class="a" points="329.5,350.8 332.8,354.4 336.4,357.5 341.0,362.8 343.0,361.2 338.6,355.7 336.2,351.6 333.2,347.7" fill="#000"/>
<polygon class="a" points="329.7,348.0 336.4,355.8 336.9,355.4 330.5,347.3" fill="#fff"/>
<polygon class="a" points="352.6,380.8 355.8,378.8 358.5,377.7 362.1,377.0 363.4,376.7 367.0,376.6 367.0,374.4 363.4,374.5 362.0,374.2 358.4,373.7 355.7,372.7 352.4,370.8" fill="#000"/>
<polygon class="a" points="350.5,377.0 358.2,376.1 358.2,375.3 350.5,374.7" fill="#fff"/>
<polygon class="a" points="69.9,425.0 69.1,421.5 68.0,418.5 67.4,414.5 67.1,413.0 67.1,408.0 64.9,408.0 64.9,413.0 64.6,414.5 64.0,418.5 62.9,421.5 62.1,425.0" fill="#000"/>
<polygon class="a" points="67.2,427.0 66.4,418.8 65.6,418.8 64.8,427.0" fill="#fff"/>
<polygon class="a" points="216.4,426.0 215.6,422.5 214.5,419.5 213.9,415.5 213.6,414.0 213.6,408.0 211.4,408.0 211.4,414.0 211.1,415.5 210.5,419.5 209.4,422.5 208.6,426.0" fill="#000"/>
<polygon class="a" points="213.7,428.0 212.9,419.8 212.1,419.8 211.3,428.0" fill="#fff"/>
<polygon class="a" points="300.6,415.5 304.3,412.5 307.4,409.2 312.8,405.0 311.2,403.0 305.8,406.9 301.6,409.0 297.8,411.7" fill="#000"/>
<polygon class="a" points="297.9,415.2 305.8,409.0 305.4,408.6 297.3,414.4" fill="#fff"/>
<polygon class="a" points="356.9,425.0 356.1,421.5 355.0,418.5 354.4,414.5 354.1,413.0 354.1,408.0 351.9,408.0 351.9,413.0 351.6,414.5 351.0,418.5 349.9,421.5 349.1,425.0" fill="#000"/>
<polygon class="a" points="354.1,427.0 353.4,418.8 352.6,418.8 351.9,427.0" fill="#fff"/>
<polygon class="a" points="391.4,416.0 388.1,413.0 384.5,410.5 379.9,406.1 378.1,407.9 382.5,412.5 385.0,416.1 388.0,419.4" fill="#000"/>
<polygon class="a" points="391.5,418.7 384.5,412.1 384.1,412.5 390.7,419.5" fill="#fff"/>
<polygon class="a" points="451.9,426.0 451.1,422.5 450.0,419.5 449.4,415.5 449.1,414.0 449.1,408.0 446.9,408.0 446.9,414.0 446.6,415.5 446.0,419.5 444.9,422.5 444.1,426.0" fill="#000"/>
<polygon class="a" points="449.1,428.0 448.4,419.8 447.6,419.8 446.9,428.0" fill="#fff"/>
<polygon class="a" points="502.6,426.0 501.8,422.5 500.7,419.5 500.1,415.5 499.8,414.0 499.8,408.0 497.6,408.0 497.6,414.0 497.3,415.5 496.7,419.5 495.6,422.5 494.8,426.0" fill="#000"/>
<polygon class="a" points="499.8,428.0 499.1,419.8 498.3,419.8 497.6,428.0" fill="#fff"/>
<polygon class="a" points="543.4,416.0 540.1,413.0 536.5,410.5 531.9,406.1 530.1,407.9 534.5,412.5 537.0,416.1 540.0,419.4" fill="#000"/>
<polygon class="a" points="543.5,418.7 536.5,412.1 536.1,412.5 542.7,419.5" fill="#fff"/>
<polygon class="a" points="563.4,383.0 559.8,379.7 555.9,377.0 550.9,372.1 549.1,373.9 554.0,378.9 556.7,382.8 560.0,386.4" fill="#000"/>
<polygon class="a" points="563.5,385.7 556.1,378.6 555.6,379.1 562.7,386.5" fill="#fff"/>
<polygon class="a" points="595.0,316.5 591.5,318.4 588.5,319.5 584.5,320.1 583.0,320.4 577.0,320.4 577.0,322.6 583.0,322.6 584.5,322.9 588.5,323.5 591.5,324.6 595.0,326.5" fill="#000"/>
<polygon class="a" points="597.0,320.4 588.8,321.1 588.8,321.9 597.0,322.6" fill="#fff"/>
<polygon class="a" points="595.0,196.0 591.5,197.9 588.5,199.0 584.5,199.6 583.0,199.9 577.0,199.9 577.0,202.1 583.0,202.1 584.5,202.4 588.5,203.0 591.5,204.1 595.0,206.0" fill="#000"/>
<polygon class="a" points="597.0,199.8 588.8,200.6 588.8,201.4 597.0,202.2" fill="#fff"/>
<polygon class="a" points="594.0,122.0 590.5,123.9 587.5,125.0 583.5,125.6 582.0,125.9 577.0,125.9 577.0,128.1 582.0,128.1 583.5,128.4 587.5,129.0 590.5,130.1 594.0,132.0" fill="#000"/>
<polygon class="a" points="596.0,125.8 587.8,126.6 587.8,127.4 596.0,128.2" fill="#fff"/>
<polygon class="a" points="527.0,123.0 530.5,121.1 533.5,120.0 537.5,119.4 539.0,119.1 543.0,119.1 543.0,116.9 539.0,116.9 537.5,116.6 533.5,116.0 530.5,114.9 527.0,113.0" fill="#000"/>
<polygon class="a" points="525.0,119.2 533.2,118.4 533.2,117.6 525.0,116.8" fill="#fff"/>
<polygon class="a" points="526.0,189.0 529.5,187.1 532.5,186.0 536.5,185.4 538.0,185.1 543.0,185.1 543.0,182.9 538.0,182.9 536.5,182.6 532.5,182.0 529.5,180.9 526.0,179.0" fill="#000"/>
<polygon class="a" points="524.0,185.2 532.2,184.4 532.2,183.6 524.0,182.8" fill="#fff"/>
<polygon class="a" points="522.6,226.5 523.4,230.0 524.5,233.0 525.1,237.0 525.4,238.5 525.4,244.0 527.6,244.0 527.6,238.5 527.9,237.0 528.5,233.0 529.6,230.0 530.4,226.5" fill="#000"/>
<polygon class="a" points="525.4,224.5 526.1,232.7 526.9,232.7 527.6,224.5" fill="#fff"/>
<polygon class="a" points="504.6,247.0 508.2,250.3 512.1,253.0 517.1,257.9 518.9,256.1 514.0,251.1 511.3,247.2 508.0,243.6" fill="#000"/>
<polygon class="a" points="504.5,244.3 511.9,251.4 512.4,250.9 505.3,243.5" fill="#fff"/>
<polygon class="a" points="500.7,268.9 504.3,267.3 507.4,266.4 511.4,266.0 512.9,265.8 516.9,266.1 517.1,263.9 513.0,263.6 511.6,263.2 507.6,262.4 504.7,261.1 501.3,258.9" fill="#000"/>
<polygon class="a" points="498.9,264.9 507.2,264.7 507.2,263.9 499.1,262.7" fill="#fff"/>
<polygon class="a" points="501.8,286.4 504.1,283.2 506.3,280.9 509.7,278.6 510.9,277.7 518.5,274.0 517.5,272.0 509.9,275.7 508.4,276.1 504.6,277.3 501.4,277.6 497.4,277.4" fill="#000"/>
<polygon class="a" points="498.3,283.8 505.4,279.6 505.0,278.9 497.3,281.8" fill="#fff"/>
<polygon class="a" points="504.2,307.0 507.6,305.0 510.6,303.8 514.5,303.1 516.0,302.7 520.0,302.6 520.0,300.4 516.0,300.5 514.4,300.3 510.4,299.8 507.4,298.8 503.8,297.0" fill="#000"/>
<polygon class="a" points="502.0,303.2 510.2,302.2 510.2,301.4 502.0,301.0" fill="#fff"/>
<polygon class="a" points="511.9,321.5 515.0,318.4 517.4,315.1 521.9,311.0 520.1,309.0 515.6,313.0 512.0,315.1 508.7,317.9" fill="#000"/>
<polygon class="a" points="509.1,321.4 515.9,315.0 515.5,314.6 508.4,320.6" fill="#fff"/>
<polygon class="a" points="531.9,340.5 531.1,337.0 530.0,334.0 529.4,330.0 529.1,328.5 529.1,322.0 526.9,322.0 526.9,328.5 526.6,330.0 526.0,334.0 524.9,337.0 524.1,340.5" fill="#000"/>
<polygon class="a" points="529.1,342.5 528.4,334.3 527.6,334.3 526.9,342.5" fill="#fff"/>
<polygon class="a" points="477.0,340.0 473.5,341.9 470.5,343.0 466.5,343.6 465.0,343.9 461.0,343.9 461.0,346.1 465.0,346.1 466.5,346.4 470.5,347.0 473.5,348.1 477.0,350.0" fill="#000"/>
<polygon class="a" points="479.0,343.9 470.8,344.6 470.8,345.4 479.0,346.1" fill="#fff"/>
<polygon class="a" points="445.1,321.0 442.6,324.3 440.5,327.6 437.0,332.2 439.0,333.8 442.7,329.4 445.5,326.6 448.2,323.5" fill="#000"/>
<polygon class="a" points="447.4,320.3 442.0,327.5 442.5,327.9 448.3,321.0" fill="#fff"/>
<polygon class="a" points="418.8,323.6 421.9,326.7 424.9,329.4 429.0,333.9 431.0,332.1 427.0,327.6 424.6,324.2 421.8,320.9" fill="#000"/>
<polygon class="a" points="418.6,321.1 425.0,327.9 425.4,327.5 419.4,320.4" fill="#fff"/>
<polygon class="a" points="401.0,348.0 404.5,346.1 407.5,345.0 411.5,344.4 413.0,344.1 417.0,344.1 417.0,341.9 413.0,341.9 411.5,341.6 407.5,341.0 404.5,339.9 401.0,338.0" fill="#000"/>
<polygon class="a" points="399.0,344.1 407.2,343.4 407.2,342.6 399.0,341.9" fill="#fff"/>
<polygon class="a" points="428.3,265.1 431.7,262.9 434.6,261.6 438.6,260.8 440.0,260.4 444.1,260.1 443.9,257.9 439.9,258.2 438.4,258.0 434.4,257.6 431.3,256.7 427.7,255.1" fill="#000"/>
<polygon class="a" points="426.1,261.3 434.2,260.1 434.2,259.3 425.9,259.1" fill="#fff"/>
<rect x="235" y="56" width="3" height="6" fill="#000"/>
<rect x="236" y="62" width="1" height="11" fill="#fff"/>
<polygon class="a" points="451.9,371.5 451.7,367.6 450.5,364.0 450.4,352.0 447.8,352.0 447.7,364.0 446.5,367.6 446.3,371.5" fill="#000"/>
<polygon class="a" points="449.7,373.5 449.4,365.0 448.8,365.0 448.6,373.5" fill="#fff"/>
<rect class="a" x="3" y="81" width="26" height="19" rx="3" ry="3" fill="#000"/>
<rect class="a" x="5" y="83" width="21" height="14" rx="1.5" ry="1.5" fill="#fff"/>
<text transform="scale(0.78,1)" x="10.78 22.50" y="95" font-size="14.5" fill="#000" stroke="#000" stroke-width="0.15" text-anchor="middle">J8</text>
<rect class="a" x="141.2" y="16" width="24.5" height="18.5" rx="3" ry="3" fill="#000"/>
<rect class="a" x="143.2" y="18" width="20" height="14" rx="1.5" ry="1.5" fill="#fff"/>
<text transform="scale(0.78,1)" x="189.44 201.54" y="30.2" font-size="14.5" fill="#000" stroke="#000" stroke-width="0.15" text-anchor="middle">J2</text>
<rect class="a" x="131.2" y="42.2" width="25.8" height="17.3" rx="3" ry="3" fill="#000"/>
<rect class="a" x="133.2" y="44.2" width="21.3" height="12.8" rx="1.5" ry="1.5" fill="#fff"/>
<text transform="scale(0.78,1)" x="176.62 188.16" y="56" font-size="14.5" fill="#000" stroke="#000" stroke-width="0.15" text-anchor="middle">J1</text>
<rect class="a" x="226.2" y="3" width="25.8" height="18" rx="3" ry="3" fill="#000"/>
<rect class="a" x="228.2" y="5" width="21.3" height="13.5" rx="1.5" ry="1.5" fill="#fff"/>
<text transform="scale(0.78,1)" x="296.94 308.34" y="16.5" font-size="14.5" fill="#000" stroke="#000" stroke-width="0.15" text-anchor="middle">J4</text>
<rect class="a" x="224.3" y="72" width="25.7" height="17.8" rx="3" ry="3" fill="#000"/>
<rect class="a" x="226.3" y="74" width="21.2" height="13.3" rx="1.5" ry="1.5" fill="#fff"/>
<text transform="scale(0.78,1)" x="294.57 304.74" y="85.5" font-size="14.5" fill="#000" stroke="#000" stroke-width="0.15" text-anchor="middle">J3</text>
<rect class="a" x="282.2" y="16.6" width="24.6" height="17.8" rx="3" ry="3" fill="#000"/>
<rect class="a" x="284.2" y="18.6" width="20.1" height="13.3" rx="1.5" ry="1.5" fill="#fff"/>
<text transform="scale(0.78,1)" x="370.34 380.26" y="31" font-size="14.5" fill="#000" stroke="#000" stroke-width="0.15" text-anchor="middle">J6</text>
<rect class="a" x="289.1" y="42.1" width="25.5" height="18.3" rx="3" ry="3" fill="#000"/>
<rect class="a" x="291.1" y="44.1" width="21" height="13.8" rx="1.5" ry="1.5" fill="#fff"/>
<text transform="scale(0.78,1)" x="379.57 389.23" y="56.5" font-size="14.5" fill="#000" stroke="#000" stroke-width="0.15" text-anchor="middle">J5</text>
<rect class="a" x="323.2" y="63.2" width="25.8" height="17.3" rx="3" ry="3" fill="#000"/>
<rect class="a" x="325.2" y="65.2" width="21.3" height="12.8" rx="1.5" ry="1.5" fill="#fff"/>
<text transform="scale(0.78,1)" x="425.34 434.87" y="77" font-size="14.5" fill="#000" stroke="#000" stroke-width="0.15" text-anchor="middle">J7</text>
<rect x="185" y="63" width="34" height="16" fill="#000"/>
<rect class="a" x="187.2" y="64" width="28.8" height="14" rx="1.5" ry="1.5" fill="#fff"/>
<text transform="scale(0.78,1)" x="248.56 258.97 271.36" y="75" font-size="14.5" fill="#000" stroke="#000" stroke-width="0.15" text-anchor="middle">PC1</text>
<rect class="a" x="164.1" y="155.8" width="35.9" height="19.9" rx="3" ry="3" fill="#000"/>
<rect class="a" x="166.1" y="157.8" width="31.4" height="15.2" rx="1.5" ry="1.5" fill="#fff"/>
<text transform="scale(0.78,1)" x="217.31 230.61 242.95" y="170" font-size="14.5" fill="#000" stroke="#000" stroke-width="0.15" text-anchor="middle">CPU</text>
<rect class="a" x="70.7" y="226" width="32" height="18.6" rx="3" ry="3" fill="#000"/>
<rect class="a" x="72.7" y="228" width="27.5" height="14.1" rx="1.5" ry="1.5" fill="#fff"/>
<text transform="scale(0.78,1)" x="97.76 111.09 123.54" y="240" font-size="14.5" fill="#000" stroke="#000" stroke-width="0.15" text-anchor="middle">SL1</text>
<rect class="a" x="273.6" y="234.1" width="34.4" height="18.4" rx="3" ry="3" fill="#000"/>
<rect class="a" x="275.6" y="236.1" width="29.9" height="13.4" rx="1.5" ry="1.5" fill="#fff"/>
<text transform="scale(0.78,1)" x="359.82 369.83 381.54" y="247.2" font-size="14.5" fill="#000" stroke="#000" stroke-width="0.15" text-anchor="middle">J10</text>
<rect class="a" x="264.4" y="258" width="35.4" height="18.5" rx="3" ry="3" fill="#000"/>
<rect class="a" x="266.4" y="260" width="30.9" height="13.7" rx="1.5" ry="1.5" fill="#fff"/>
<text transform="scale(0.78,1)" x="346.87 357.90 368.67" y="271.7" font-size="14.5" fill="#000" stroke="#000" stroke-width="0.15" text-anchor="middle">J11</text>
<rect class="a" x="273.6" y="284" width="34.4" height="18" rx="3" ry="3" fill="#000"/>
<rect class="a" x="275.6" y="286" width="29.9" height="14.5" rx="1.5" ry="1.5" fill="#fff"/>
<text transform="scale(0.78,1)" x="359.82 369.83 381.79" y="297" font-size="14.5" fill="#000" stroke="#000" stroke-width="0.15" text-anchor="middle">J12</text>
<rect class="a" x="302" y="337" width="33" height="16.3" rx="1.5" ry="1.5" fill="#000"/>
<rect class="a" x="303.5" y="339" width="28.5" height="12.3" rx="0.5" ry="0.5" fill="#fff"/>
<text transform="scale(0.78,1)" x="396.03 409.36 420.34" y="351" font-size="14.5" fill="#000" stroke="#000" stroke-width="0.15" text-anchor="middle">CN1</text>
<rect class="a" x="317" y="367" width="37" height="19" rx="3" ry="3" fill="#000"/>
<rect class="a" x="319.5" y="369.5" width="31.5" height="13.5" rx="1.5" ry="1.5" fill="#fff"/>
<text transform="scale(0.78,1)" x="416.67 431.15 440.13" y="381.5" font-size="14.5" fill="#000" stroke="#000" stroke-width="0.15" text-anchor="middle">CN2</text>
<rect class="a" x="49.4" y="423.1" width="33.2" height="18.5" rx="3" ry="3" fill="#000"/>
<rect class="a" x="51.4" y="425.1" width="28.7" height="14" rx="1.5" ry="1.5" fill="#fff"/>
<text transform="scale(0.78,1)" x="68.72 83.46 95.64" y="437.5" font-size="14.5" fill="#000" stroke="#000" stroke-width="0.15" text-anchor="middle">CN3</text>
<rect class="a" x="195.2" y="424.3" width="33.3" height="18" rx="3" ry="3" fill="#000"/>
<rect class="a" x="197.2" y="426.3" width="28.8" height="13.5" rx="1.5" ry="1.5" fill="#fff"/>
<text transform="scale(0.78,1)" x="259.62 273.85 283.72" y="438" font-size="14.5" fill="#000" stroke="#000" stroke-width="0.15" text-anchor="middle">CN4</text>
<rect class="a" x="270.5" y="411.4" width="33.9" height="18.2" rx="3" ry="3" fill="#000"/>
<rect class="a" x="272.5" y="413.4" width="29.4" height="13.7" rx="1.5" ry="1.5" fill="#fff"/>
<text transform="scale(0.78,1)" x="356.41 369.23 380.13" y="425.5" font-size="14.5" fill="#000" stroke="#000" stroke-width="0.15" text-anchor="middle">CN5</text>
<rect class="a" x="335.4" y="423.2" width="32.9" height="18.8" rx="3" ry="3" fill="#000"/>
<rect class="a" x="337.4" y="425.2" width="28.4" height="14.3" rx="1.5" ry="1.5" fill="#fff"/>
<text transform="scale(0.78,1)" x="438.46 452.95 462.56" y="437.2" font-size="14.5" fill="#000" stroke="#000" stroke-width="0.15" text-anchor="middle">CN6</text>
<rect class="a" x="385" y="414.2" width="33.4" height="18.4" rx="3" ry="3" fill="#000"/>
<rect class="a" x="387" y="416.2" width="28.9" height="13.9" rx="1.5" ry="1.5" fill="#fff"/>
<text transform="scale(0.78,1)" x="502.13 513.16 524.10" y="428.2" font-size="14.5" fill="#000" stroke="#000" stroke-width="0.15" text-anchor="middle">J18</text>
<rect class="a" x="430.2" y="424" width="33.6" height="18.4" rx="3" ry="3" fill="#000"/>
<rect class="a" x="432.2" y="426" width="29.1" height="13.9" rx="1.5" ry="1.5" fill="#fff"/>
<text transform="scale(0.78,1)" x="559.23 575.13 587.05" y="438" font-size="14.5" fill="#000" stroke="#000" stroke-width="0.15" text-anchor="middle">CN7</text>
<rect class="a" x="481" y="424" width="34" height="18.4" rx="3" ry="3" fill="#000"/>
<rect class="a" x="483" y="426" width="29.5" height="13.9" rx="1.5" ry="1.5" fill="#fff"/>
<text transform="scale(0.78,1)" x="623.97 639.23 652.05" y="438" font-size="14.5" fill="#000" stroke="#000" stroke-width="0.15" text-anchor="middle">CN8</text>
<rect class="a" x="537.4" y="415.3" width="41.5" height="18" rx="3" ry="3" fill="#000"/>
<rect class="a" x="539.4" y="417.3" width="37" height="13.5" rx="1.5" ry="1.5" fill="#fff"/>
<text transform="scale(0.78,1)" x="695.26 710.77 723.93 734.10" y="429.7" font-size="14.5" fill="#000" stroke="#000" stroke-width="0.15" text-anchor="middle">CN15</text>
<rect class="a" x="558.2" y="382.5" width="41.8" height="18" rx="3" ry="3" fill="#000"/>
<rect class="a" x="560.7" y="385" width="36.8" height="12.5" rx="1.5" ry="1.5" fill="#fff"/>
<text transform="scale(0.78,1)" x="722.31 737.56 751.11 761.15" y="397" font-size="14.5" fill="#000" stroke="#000" stroke-width="0.15" text-anchor="middle">CN13</text>
<rect class="a" x="593.4" y="313.2" width="45.1" height="18.3" rx="3" ry="3" fill="#000"/>
<rect class="a" x="595.9" y="315.2" width="40.6" height="13.3" rx="1.5" ry="1.5" fill="#fff"/>
<text transform="scale(0.78,1)" x="769.36 784.87 799.57 808.59" y="327" font-size="14.5" fill="#000" stroke="#000" stroke-width="0.15" text-anchor="middle">CN14</text>
<rect class="a" x="593.4" y="192.2" width="45.1" height="18.8" rx="3" ry="3" fill="#000"/>
<rect class="a" x="595.9" y="194.2" width="40.6" height="13.8" rx="1.5" ry="1.5" fill="#fff"/>
<text transform="scale(0.78,1)" x="770.38 786.28 798.80 810.85" y="205.2" font-size="14.5" fill="#000" stroke="#000" stroke-width="0.15" text-anchor="middle">CN11</text>
<rect class="a" x="592" y="118" width="46.1" height="18.7" rx="3" ry="3" fill="#000"/>
<rect class="a" x="594.5" y="120" width="41.3" height="14.2" rx="1.5" ry="1.5" fill="#fff"/>
<text transform="scale(0.78,1)" x="767.18 782.05 795.34 805.77" y="132" font-size="14.5" fill="#000" stroke="#000" stroke-width="0.15" text-anchor="middle">CN10</text>
<rect class="a" x="493.3" y="109.1" width="35.2" height="18.3" rx="3" ry="3" fill="#000"/>
<rect class="a" x="495.3" y="111.1" width="30.7" height="13.8" rx="1.5" ry="1.5" fill="#fff"/>
<text transform="scale(0.78,1)" x="639.62 655.51 666.79" y="123.2" font-size="14.5" fill="#000" stroke="#000" stroke-width="0.15" text-anchor="middle">CN9</text>
<rect class="a" x="483.4" y="175.2" width="44.2" height="18.3" rx="3" ry="3" fill="#000"/>
<rect class="a" x="484.9" y="177.2" width="40.1" height="13.3" rx="1.5" ry="1.5" fill="#fff"/>
<text transform="scale(0.78,1)" x="626.15 641.41 653.67 664.74" y="189.3" font-size="14.5" fill="#000" stroke="#000" stroke-width="0.15" text-anchor="middle">CN12</text>
<rect class="a" x="510.4" y="210.4" width="32.4" height="17.6" rx="3" ry="3" fill="#000"/>
<rect class="a" x="512.4" y="212.4" width="27.9" height="13.1" rx="1.5" ry="1.5" fill="#fff"/>
<text transform="scale(0.78,1)" x="661.23 671.62 682.82" y="224.5" font-size="14.5" fill="#000" stroke="#000" stroke-width="0.15" text-anchor="middle">J19</text>
<rect class="a" x="478.3" y="233.7" width="32.3" height="14.3" rx="1.5" ry="1.5" fill="#000"/>
<rect class="a" x="479.3" y="235" width="28.3" height="11" rx="0.5" ry="0.5" fill="#fff"/>
<text transform="scale(0.78,1)" x="618.67 629.49 640.64" y="245.6" font-size="14.5" fill="#000" stroke="#000" stroke-width="0.15" text-anchor="middle">J20</text>
<rect class="a" x="467.5" y="255.2" width="35.1" height="16.1" rx="3" ry="3" fill="#000"/>
<rect class="a" x="469.5" y="257.2" width="31.5" height="12.4" rx="1.5" ry="1.5" fill="#fff"/>
<text transform="scale(0.78,1)" x="607.26 618.85 630.60" y="268" font-size="14.5" fill="#000" stroke="#000" stroke-width="0.15" text-anchor="middle">J21</text>
<rect class="a" x="466.5" y="274" width="34.5" height="17.5" rx="1.5" ry="1.5" fill="#000"/>
<rect class="a" x="467.8" y="275.8" width="31" height="13.6" rx="0.5" ry="0.5" fill="#fff"/>
<text transform="scale(0.78,1)" x="607.26 618.85 628.85" y="287.6" font-size="14.5" fill="#000" stroke="#000" stroke-width="0.15" text-anchor="middle">J22</text>
<rect class="a" x="472" y="294.4" width="34" height="16.8" rx="1.5" ry="1.5" fill="#000"/>
<rect class="a" x="473.3" y="296.2" width="30.5" height="13" rx="0.5" ry="0.5" fill="#fff"/>
<text transform="scale(0.78,1)" x="612.26 623.85 633.85" y="307.1" font-size="14.5" fill="#000" stroke="#000" stroke-width="0.15" text-anchor="middle">J23</text>
<rect class="a" x="481.1" y="316.9" width="33.7" height="17" rx="3" ry="3" fill="#000"/>
<rect class="a" x="482.7" y="318.5" width="29.3" height="12.8" rx="1.5" ry="1.5" fill="#fff"/>
<text transform="scale(0.78,1)" x="623.28 634.87 645.64" y="329.7" font-size="14.5" fill="#000" stroke="#000" stroke-width="0.15" text-anchor="middle">J24</text>
<rect class="a" x="510.5" y="338.6" width="32.7" height="16.4" rx="1.5" ry="1.5" fill="#000"/>
<rect class="a" x="512" y="341" width="29.7" height="11.9" rx="0.5" ry="0.5" fill="#fff"/>
<text transform="scale(0.78,1)" x="662.39 673.08 684.10" y="352" font-size="14.5" fill="#000" stroke="#000" stroke-width="0.15" text-anchor="middle">J25</text>
<rect class="a" x="475.3" y="336.8" width="33.5" height="16.4" rx="3" ry="3" fill="#000"/>
<rect class="a" x="476.9" y="338.3" width="30.1" height="13" rx="1.5" ry="1.5" fill="#fff"/>
<text transform="scale(0.78,1)" x="616.23 627.77 637.18" y="348.8" font-size="14.5" fill="#000" stroke="#000" stroke-width="0.15" text-anchor="middle">J17</text>
<rect class="a" x="443.2" y="309" width="34.1" height="17.7" rx="1.5" ry="1.5" fill="#000"/>
<rect class="a" x="444.6" y="311" width="30.2" height="13.2" rx="0.5" ry="0.5" fill="#fff"/>
<text transform="scale(0.78,1)" x="575.59 587.90 597.95" y="322.1" font-size="14.5" fill="#000" stroke="#000" stroke-width="0.15" text-anchor="middle">J15</text>
<rect class="a" x="390.4" y="308.6" width="32.4" height="17.6" rx="1.5" ry="1.5" fill="#000"/>
<rect class="a" x="391.8" y="311" width="28.6" height="13.2" rx="0.5" ry="0.5" fill="#fff"/>
<text transform="scale(0.78,1)" x="507.77 518.42 529.10" y="322.1" font-size="14.5" fill="#000" stroke="#000" stroke-width="0.15" text-anchor="middle">J14</text>
<rect class="a" x="367.7" y="335.2" width="35" height="15.8" rx="3" ry="3" fill="#000"/>
<rect class="a" x="369.7" y="336.8" width="30.5" height="12.2" rx="1.5" ry="1.5" fill="#fff"/>
<text transform="scale(0.78,1)" x="479.44 489.95 500.64" y="347.3" font-size="14.5" fill="#000" stroke="#000" stroke-width="0.15" text-anchor="middle">J13</text>
<rect class="a" x="431.5" y="369.5" width="32.9" height="17.1" rx="3" ry="3" fill="#000"/>
<rect class="a" x="433.1" y="371.1" width="28.7" height="12.7" rx="1.5" ry="1.5" fill="#fff"/>
<text transform="scale(0.78,1)" x="560.72 573.03 581.79" y="381.5" font-size="14.5" fill="#000" stroke="#000" stroke-width="0.15" text-anchor="middle">J16</text>
<rect class="a" x="405" y="252.3" width="24.6" height="15.4" rx="3" ry="3" fill="#000"/>
<rect class="a" x="406.6" y="253.9" width="21" height="11.8" rx="1.5" ry="1.5" fill="#fff"/>
<text transform="scale(0.78,1)" x="527.64 537.31" y="264.2" font-size="14.5" fill="#000" stroke="#000" stroke-width="0.15" text-anchor="middle">J9</text>
<text transform="scale(0.9,1)" x="593.44 602.67 612.00 621.22 630.44" y="46" font-size="11.5" fill="#000" stroke="#000" stroke-width="0" text-anchor="middle">35886</text>
</g>
</svg>
</body>
</html>
